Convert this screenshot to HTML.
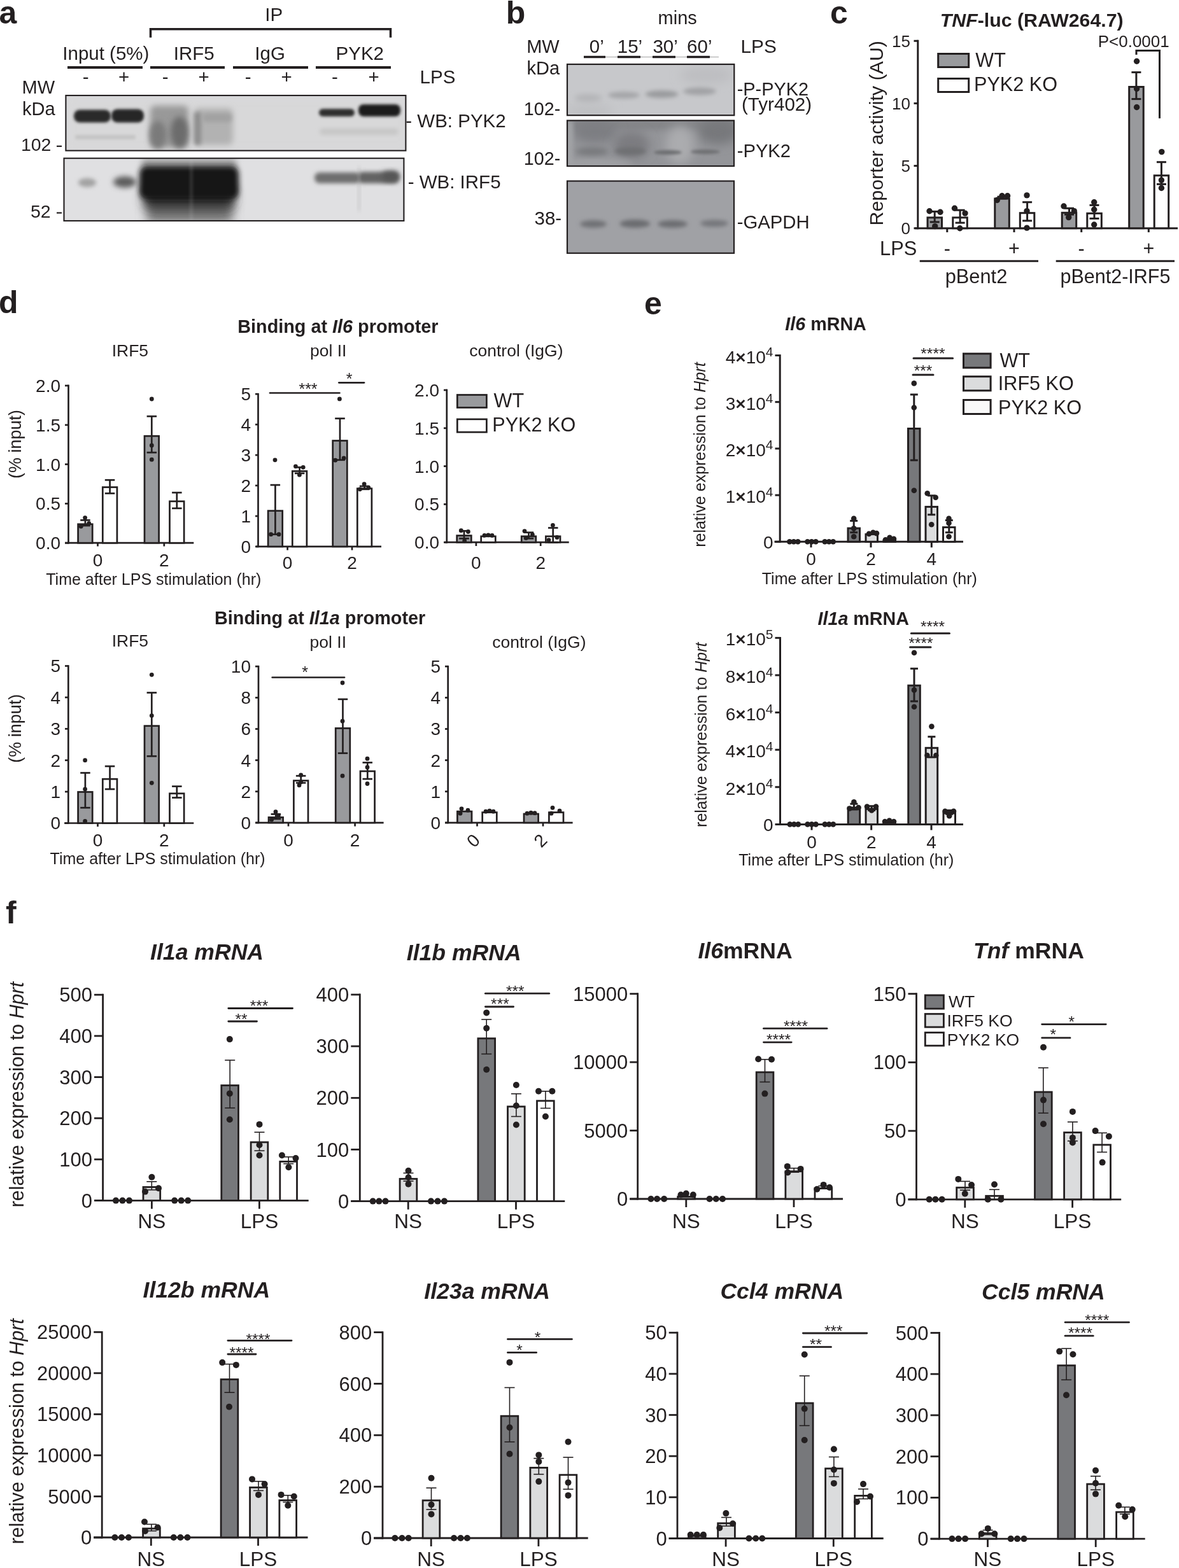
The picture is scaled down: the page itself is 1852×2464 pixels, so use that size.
<!DOCTYPE html>
<html><head><meta charset="utf-8"><title>Figure</title>
<style>
html,body{margin:0;padding:0;background:#fff;}
body{width:1852px;height:2464px;overflow:hidden;}
svg{display:block;}
text{font-family:'Liberation Sans', Arial, sans-serif;fill:#231f20;}
</style></head><body>
<svg width="1852" height="2464" viewBox="0 0 1852 2464">
<defs>
<filter id="b2" x="-50%" y="-50%" width="200%" height="200%"><feGaussianBlur stdDeviation="2"/></filter>
<filter id="b3" x="-50%" y="-50%" width="200%" height="200%"><feGaussianBlur stdDeviation="3"/></filter>
<filter id="b4" x="-50%" y="-50%" width="200%" height="200%"><feGaussianBlur stdDeviation="4"/></filter>
<filter id="b5" x="-50%" y="-50%" width="200%" height="200%"><feGaussianBlur stdDeviation="5"/></filter>
<filter id="b8" x="-50%" y="-50%" width="200%" height="200%"><feGaussianBlur stdDeviation="8"/></filter>
</defs>
<rect width="1852" height="2464" fill="#fff"/>
<text x="-1.5" y="37.0" font-size="50" font-weight="bold">a</text>
<text x="416.3" y="32.5" font-size="29.5">IP</text>
<path d="M236.5 59 V45.8 H613.5 V59" fill="none" stroke="#231f20" stroke-width="3.5"/>
<text x="98.3" y="94.0" font-size="29.5">Input (5%)</text>
<text x="272.7" y="94.0" font-size="29.5">IRF5</text>
<text x="400.3" y="94.0" font-size="29.5">IgG</text>
<text x="527.6" y="94.0" font-size="29.5">PYK2</text>
<line x1="106.0" y1="106.0" x2="224.0" y2="106.0" stroke="#231f20" stroke-width="4"/>
<line x1="236.0" y1="106.0" x2="353.0" y2="106.0" stroke="#231f20" stroke-width="4"/>
<line x1="366.0" y1="106.0" x2="484.0" y2="106.0" stroke="#231f20" stroke-width="4"/>
<line x1="496.0" y1="106.0" x2="614.0" y2="106.0" stroke="#231f20" stroke-width="4"/>
<text x="134.6" y="131.0" font-size="29.5" text-anchor="middle">-</text>
<text x="194.7" y="131.0" font-size="29.5" text-anchor="middle">+</text>
<text x="259.6" y="131.0" font-size="29.5" text-anchor="middle">-</text>
<text x="320.0" y="131.0" font-size="29.5" text-anchor="middle">+</text>
<text x="389.6" y="131.0" font-size="29.5" text-anchor="middle">-</text>
<text x="450.2" y="131.0" font-size="29.5" text-anchor="middle">+</text>
<text x="526.0" y="131.0" font-size="29.5" text-anchor="middle">-</text>
<text x="587.0" y="131.0" font-size="29.5" text-anchor="middle">+</text>
<text x="659.6" y="131.0" font-size="29.5">LPS</text>
<text x="34.6" y="147.0" font-size="29">MW</text>
<text x="35.0" y="180.5" font-size="29">kDa</text>
<clipPath id="ca1"><rect x="103.4" y="150" width="534" height="86.7"/></clipPath>
<clipPath id="ca2"><rect x="100.5" y="248.7" width="533.9" height="98.3"/></clipPath>
<g clip-path="url(#ca1)">
<rect x="103.4" y="150.0" width="534.0" height="86.7" fill="#dadadc" />
<rect x="103" y="150" width="540" height="90" fill="#d6d6d6" opacity="0.5" filter="url(#b8)"/>
<rect x="116" y="172.5" width="58" height="20" rx="9" fill="#2a2a2a" filter="url(#b2)"/>
<rect x="175" y="171.5" width="51" height="21" rx="9" fill="#262626" filter="url(#b2)"/>
<rect x="118" y="212" width="95" height="7" rx="3" fill="#c4c4c4" filter="url(#b2)"/>
<rect x="236" y="166" width="60" height="66" rx="8" fill="#999999" filter="url(#b5)"/>
<ellipse cx="248" cy="212" rx="13" ry="22" fill="#7a7a7a" filter="url(#b5)"/>
<ellipse cx="282" cy="208" rx="14" ry="25" fill="#6c6c6c" filter="url(#b5)"/>
<rect x="305" y="170" width="61" height="58" rx="8" fill="#b2b2b2" filter="url(#b5)"/>
<rect x="305" y="176" width="11" height="52" rx="4" fill="#8e8e8e" filter="url(#b3)"/>
<rect x="318" y="178" width="46" height="14" rx="6" fill="#a2a2a2" filter="url(#b3)"/>
<rect x="501" y="171" width="56" height="12" rx="6" fill="#2e2e2e" filter="url(#b2)"/>
<rect x="563" y="164" width="66" height="19" rx="8" fill="#1e1e1e" filter="url(#b2)"/>
<rect x="502" y="202" width="124" height="10" rx="5" fill="#c6c6c6" filter="url(#b3)"/>
</g>
<rect x="103.4" y="150.0" width="534.0" height="86.7" fill="none" stroke="#231f20" stroke-width="2.1" />
<g clip-path="url(#ca2)">
<rect x="100.5" y="248.7" width="533.9" height="98.3" fill="#e0e0e2" />
<ellipse cx="137" cy="287" rx="14" ry="7" fill="#a2a2a2" filter="url(#b3)"/>
<ellipse cx="196" cy="286" rx="18" ry="9" fill="#5c5c5c" filter="url(#b4)"/>
<rect x="222" y="249" width="150" height="20" rx="8" fill="#a0a0a0" filter="url(#b5)"/>
<rect x="230" y="316" width="136" height="34" rx="8" fill="#767676" filter="url(#b8)"/>
<rect x="225" y="290" width="144" height="38" rx="10" fill="#2a2a2a" filter="url(#b8)"/>
<rect x="219" y="261" width="156" height="52" rx="12" fill="#141414" filter="url(#b4)"/>
<rect x="298" y="250" width="5" height="98" fill="#d0d0d0" opacity="0.15" filter="url(#b2)"/>
<rect x="494" y="271" width="72" height="17" rx="8" fill="#6e6e6e" filter="url(#b3)"/>
<rect x="562" y="270" width="65" height="18" rx="8" fill="#646464" filter="url(#b3)"/>
<rect x="600" y="269" width="27" height="16" rx="8" fill="#555555" filter="url(#b4)"/>
<rect x="562" y="262" width="4" height="70" fill="#9a9a9a" opacity="0.3" filter="url(#b3)"/>
</g>
<rect x="100.5" y="248.7" width="533.9" height="98.3" fill="none" stroke="#231f20" stroke-width="2.1" />
<text x="32.9" y="236.7" font-size="28.5">102</text>
<line x1="89.0" y1="229.8" x2="97.0" y2="229.8" stroke="#231f20" stroke-width="2.2"/>
<text x="47.9" y="341.8" font-size="28.5">52</text>
<line x1="89.0" y1="334.5" x2="97.0" y2="334.5" stroke="#231f20" stroke-width="2.2"/>
<text x="637.3" y="199.6" font-size="29.5">- WB: PYK2</text>
<text x="640.7" y="296.0" font-size="29.5">- WB: IRF5</text>
<text x="794.8" y="37.0" font-size="50" font-weight="bold">b</text>
<text x="1033.6" y="37.6" font-size="29">mins</text>
<text x="827.2" y="82.7" font-size="29">MW</text>
<text x="827.6" y="117.0" font-size="29">kDa</text>
<text x="925.8" y="82.7" font-size="29.5">0’</text>
<text x="969.8" y="82.7" font-size="29.5">15’</text>
<text x="1025.4" y="82.7" font-size="29.5">30’</text>
<text x="1079.1" y="82.7" font-size="29.5">60’</text>
<line x1="917.0" y1="89.6" x2="1129.0" y2="89.6" stroke="#888" stroke-width="0.8"/>
<line x1="917.0" y1="89.6" x2="951.0" y2="89.6" stroke="#231f20" stroke-width="3.5"/>
<line x1="970.0" y1="89.6" x2="1006.0" y2="89.6" stroke="#231f20" stroke-width="3.5"/>
<line x1="1025.0" y1="89.6" x2="1061.0" y2="89.6" stroke="#231f20" stroke-width="3.5"/>
<line x1="1079.0" y1="89.6" x2="1115.0" y2="89.6" stroke="#231f20" stroke-width="3.5"/>
<text x="1163.5" y="82.7" font-size="29.8">LPS</text>
<clipPath id="cb1"><rect x="891" y="101" width="262.3" height="80.2"/></clipPath>
<clipPath id="cb2"><rect x="891" y="189.4" width="262" height="71.6"/></clipPath>
<clipPath id="cb3"><rect x="891" y="284.5" width="262" height="113.3"/></clipPath>
<g clip-path="url(#cb1)">
<rect x="891.0" y="101.0" width="262.3" height="80.2" fill="#c7c8cb" />
<ellipse cx="1110" cy="118" rx="42" ry="14" fill="#bdbec1" filter="url(#b8)"/>
<ellipse cx="925" cy="174" rx="38" ry="8" fill="#bcbdc0" filter="url(#b8)"/>
<ellipse cx="924" cy="154" rx="22" ry="6" fill="#b2b3b6" filter="url(#b4)"/>
<ellipse cx="980" cy="149.5" rx="25" ry="5.5" fill="#a5a6a9" filter="url(#b3)"/>
<ellipse cx="1039.5" cy="148" rx="26" ry="6" fill="#9a9b9e" filter="url(#b3)"/>
<ellipse cx="1099" cy="143.5" rx="26" ry="6" fill="#a1a2a5" filter="url(#b3)"/>
</g>
<rect x="891.0" y="101.0" width="262.3" height="80.2" fill="none" stroke="#231f20" stroke-width="2.2" />
<g clip-path="url(#cb2)">
<rect x="891.0" y="189.4" width="262.0" height="71.6" fill="#949599" />
<rect x="891" y="188" width="262" height="16" fill="#838488" filter="url(#b5)"/>
<ellipse cx="935" cy="207" rx="36" ry="18" fill="#7d7e82" filter="url(#b8)"/>
<ellipse cx="992" cy="228" rx="28" ry="22" fill="#7b7c80" filter="url(#b8)"/>
<ellipse cx="1128" cy="207" rx="32" ry="20" fill="#77787c" filter="url(#b8)"/>
<ellipse cx="1068" cy="228" rx="22" ry="30" fill="#abacaf" filter="url(#b8)"/>
<rect x="891" y="190" width="9" height="71" fill="#a3a4a7" filter="url(#b3)"/>
<ellipse cx="935" cy="257" rx="60" ry="6" fill="#a2a3a6" filter="url(#b5)"/>
<ellipse cx="930" cy="238" rx="26" ry="6" fill="#76777a" filter="url(#b4)"/>
<ellipse cx="990" cy="237.5" rx="25" ry="6" fill="#6e6f72" filter="url(#b3)"/>
<ellipse cx="1049" cy="239.5" rx="22" ry="3.5" fill="#6c6d70" filter="url(#b2)"/>
<ellipse cx="1108" cy="238.5" rx="23" ry="3.5" fill="#6e6f72" filter="url(#b2)"/>
</g>
<rect x="891.0" y="189.4" width="262.0" height="71.6" fill="none" stroke="#231f20" stroke-width="2.2" />
<g clip-path="url(#cb3)">
<rect x="891.0" y="284.5" width="262.0" height="113.3" fill="#a0a1a5" />
<ellipse cx="932" cy="352" rx="21" ry="6" fill="#707175" filter="url(#b3)"/>
<ellipse cx="997.4" cy="351.5" rx="24" ry="6.5" fill="#6b6c70" filter="url(#b3)"/>
<ellipse cx="1056.5" cy="352" rx="23.5" ry="6" fill="#6c6d71" filter="url(#b3)"/>
<ellipse cx="1122" cy="351" rx="22" ry="5.5" fill="#75767a" filter="url(#b3)"/>
</g>
<rect x="891.0" y="284.5" width="262.0" height="113.3" fill="none" stroke="#231f20" stroke-width="2.2" />
<text x="822.8" y="181.0" font-size="28.7">102-</text>
<text x="822.8" y="259.3" font-size="28.7">102-</text>
<text x="839.5" y="353.0" font-size="29.5">38-</text>
<text x="1157.7" y="150.4" font-size="28.9">-P-PYK2</text>
<text x="1165.0" y="173.6" font-size="29.6">(Tyr402)</text>
<text x="1157.7" y="247.3" font-size="29.2">-PYK2</text>
<text x="1157.7" y="359.0" font-size="29.3">-GAPDH</text>
<text x="1304.0" y="36.5" font-size="50" font-weight="bold">c</text>
<text x="1476.8" y="41.5" font-size="30.3" font-weight="bold"><tspan font-style="italic">TNF</tspan>-luc (RAW264.7)</text>
<line x1="1441.8" y1="62.8" x2="1441.8" y2="360.2" stroke="#231f20" stroke-width="3"/>
<line x1="1435.5" y1="358.7" x2="1441.8" y2="358.7" stroke="#231f20" stroke-width="3"/>
<text x="1430.0" y="368.0" font-size="26" text-anchor="end">0</text>
<line x1="1435.5" y1="260.6" x2="1441.8" y2="260.6" stroke="#231f20" stroke-width="3"/>
<text x="1430.0" y="269.9" font-size="26" text-anchor="end">5</text>
<line x1="1435.5" y1="162.4" x2="1441.8" y2="162.4" stroke="#231f20" stroke-width="3"/>
<text x="1430.0" y="171.7" font-size="26" text-anchor="end">10</text>
<line x1="1435.5" y1="64.3" x2="1441.8" y2="64.3" stroke="#231f20" stroke-width="3"/>
<text x="1430.0" y="73.6" font-size="26" text-anchor="end">15</text>
<line x1="1437.0" y1="358.7" x2="1850.0" y2="358.7" stroke="#231f20" stroke-width="3"/>
<line x1="1487.8" y1="358.7" x2="1487.8" y2="365.0" stroke="#231f20" stroke-width="3"/>
<line x1="1593.0" y1="358.7" x2="1593.0" y2="365.0" stroke="#231f20" stroke-width="3"/>
<line x1="1698.7" y1="358.7" x2="1698.7" y2="365.0" stroke="#231f20" stroke-width="3"/>
<line x1="1804.3" y1="358.7" x2="1804.3" y2="365.0" stroke="#231f20" stroke-width="3"/>
<text x="1387.2" y="354.5" font-size="30.4" transform="rotate(-90 1387.2 354.5)">Reporter activity (AU)</text>
<text x="1382.1" y="401.0" font-size="30.8">LPS</text>
<text x="1487.8" y="401.0" font-size="30.5" text-anchor="middle">-</text>
<text x="1593.0" y="401.0" font-size="30.5" text-anchor="middle">+</text>
<text x="1698.7" y="401.0" font-size="30.5" text-anchor="middle">-</text>
<text x="1804.3" y="401.0" font-size="30.5" text-anchor="middle">+</text>
<line x1="1444.7" y1="410.3" x2="1631.0" y2="410.3" stroke="#231f20" stroke-width="3"/>
<line x1="1658.7" y1="410.3" x2="1845.0" y2="410.3" stroke="#231f20" stroke-width="3"/>
<text x="1533.5" y="445.4" font-size="30.8" text-anchor="middle">pBent2</text>
<text x="1752.0" y="445.4" font-size="30.5" text-anchor="middle">pBent2-IRF5</text>
<rect x="1473.7" y="84.5" width="48.0" height="21.0" fill="#999a9d" stroke="#231f20" stroke-width="3" />
<rect x="1473.7" y="123.5" width="48.0" height="21.0" fill="#fff" stroke="#231f20" stroke-width="3" />
<text x="1532.3" y="104.6" font-size="30.6">WT</text>
<text x="1530.0" y="142.8" font-size="30.6">PYK2 KO</text>
<rect x="1457.0" y="341.9" width="22.5" height="16.8" fill="#999a9d" stroke="#231f20" stroke-width="3" />
<rect x="1496.8" y="341.9" width="22.5" height="16.8" fill="#fff" stroke="#231f20" stroke-width="3" />
<rect x="1562.8" y="312.1" width="22.5" height="46.6" fill="#999a9d" stroke="#231f20" stroke-width="3" />
<rect x="1602.3" y="334.7" width="22.5" height="24.0" fill="#fff" stroke="#231f20" stroke-width="3" />
<rect x="1668.2" y="334.3" width="22.5" height="24.4" fill="#999a9d" stroke="#231f20" stroke-width="3" />
<rect x="1707.8" y="335.3" width="22.5" height="23.4" fill="#fff" stroke="#231f20" stroke-width="3" />
<rect x="1773.7" y="136.5" width="22.5" height="222.2" fill="#999a9d" stroke="#231f20" stroke-width="3" />
<rect x="1813.2" y="275.8" width="22.5" height="82.9" fill="#fff" stroke="#231f20" stroke-width="3" />
<line x1="1468.2" y1="348.9" x2="1468.2" y2="332.4" stroke="#231f20" stroke-width="3"/>
<line x1="1460.7" y1="332.4" x2="1475.7" y2="332.4" stroke="#231f20" stroke-width="3"/>
<line x1="1460.7" y1="348.9" x2="1475.7" y2="348.9" stroke="#231f20" stroke-width="3"/>
<line x1="1508.1" y1="350.1" x2="1508.1" y2="330.2" stroke="#231f20" stroke-width="3"/>
<line x1="1500.6" y1="330.2" x2="1515.6" y2="330.2" stroke="#231f20" stroke-width="3"/>
<line x1="1500.6" y1="350.1" x2="1515.6" y2="350.1" stroke="#231f20" stroke-width="3"/>
<line x1="1574.0" y1="312.0" x2="1574.0" y2="309.2" stroke="#231f20" stroke-width="3"/>
<line x1="1566.5" y1="309.2" x2="1581.5" y2="309.2" stroke="#231f20" stroke-width="3"/>
<line x1="1566.5" y1="312.0" x2="1581.5" y2="312.0" stroke="#231f20" stroke-width="3"/>
<line x1="1613.6" y1="346.9" x2="1613.6" y2="317.7" stroke="#231f20" stroke-width="3"/>
<line x1="1606.1" y1="317.7" x2="1621.1" y2="317.7" stroke="#231f20" stroke-width="3"/>
<line x1="1606.1" y1="346.9" x2="1621.1" y2="346.9" stroke="#231f20" stroke-width="3"/>
<line x1="1679.5" y1="337.1" x2="1679.5" y2="327.3" stroke="#231f20" stroke-width="3"/>
<line x1="1672.0" y1="327.3" x2="1687.0" y2="327.3" stroke="#231f20" stroke-width="3"/>
<line x1="1672.0" y1="337.1" x2="1687.0" y2="337.1" stroke="#231f20" stroke-width="3"/>
<line x1="1719.0" y1="343.4" x2="1719.0" y2="322.4" stroke="#231f20" stroke-width="3"/>
<line x1="1711.5" y1="322.4" x2="1726.5" y2="322.4" stroke="#231f20" stroke-width="3"/>
<line x1="1711.5" y1="343.4" x2="1726.5" y2="343.4" stroke="#231f20" stroke-width="3"/>
<line x1="1784.9" y1="155.6" x2="1784.9" y2="113.6" stroke="#231f20" stroke-width="3"/>
<line x1="1777.4" y1="113.6" x2="1792.4" y2="113.6" stroke="#231f20" stroke-width="3"/>
<line x1="1777.4" y1="155.6" x2="1792.4" y2="155.6" stroke="#231f20" stroke-width="3"/>
<line x1="1824.4" y1="289.4" x2="1824.4" y2="254.7" stroke="#231f20" stroke-width="3"/>
<line x1="1816.9" y1="254.7" x2="1831.9" y2="254.7" stroke="#231f20" stroke-width="3"/>
<line x1="1816.9" y1="289.4" x2="1831.9" y2="289.4" stroke="#231f20" stroke-width="3"/>
<circle cx="1460.0" cy="331.8" r="4.7" fill="#231f20"/>
<circle cx="1477.0" cy="333.2" r="4.7" fill="#231f20"/>
<circle cx="1468.7" cy="355.6" r="4.7" fill="#231f20"/>
<circle cx="1499.5" cy="327.3" r="4.7" fill="#231f20"/>
<circle cx="1516.0" cy="335.1" r="4.7" fill="#231f20"/>
<circle cx="1507.8" cy="358.7" r="4.7" fill="#231f20"/>
<circle cx="1566.3" cy="314.5" r="4.7" fill="#231f20"/>
<circle cx="1574.0" cy="307.7" r="4.7" fill="#231f20"/>
<circle cx="1582.6" cy="307.7" r="4.7" fill="#231f20"/>
<circle cx="1613.0" cy="306.9" r="4.7" fill="#231f20"/>
<circle cx="1613.0" cy="331.6" r="4.7" fill="#231f20"/>
<circle cx="1613.0" cy="358.1" r="4.7" fill="#231f20"/>
<circle cx="1671.0" cy="324.0" r="4.7" fill="#231f20"/>
<circle cx="1687.3" cy="331.6" r="4.7" fill="#231f20"/>
<circle cx="1678.7" cy="341.6" r="4.7" fill="#231f20"/>
<circle cx="1718.7" cy="317.7" r="4.7" fill="#231f20"/>
<circle cx="1718.7" cy="329.3" r="4.7" fill="#231f20"/>
<circle cx="1718.7" cy="353.0" r="4.7" fill="#231f20"/>
<circle cx="1785.6" cy="96.3" r="4.7" fill="#231f20"/>
<circle cx="1785.6" cy="139.5" r="4.7" fill="#231f20"/>
<circle cx="1785.6" cy="168.5" r="4.7" fill="#231f20"/>
<circle cx="1824.8" cy="238.6" r="4.7" fill="#231f20"/>
<circle cx="1824.4" cy="283.1" r="4.7" fill="#231f20"/>
<circle cx="1824.4" cy="295.5" r="4.7" fill="#231f20"/>
<path d="M1785 86 V79.5 H1821.5 V186" fill="none" stroke="#231f20" stroke-width="3"/>
<text x="1724.7" y="73.7" font-size="26">P&lt;0.0001</text>
<text x="-2.0" y="492.0" font-size="50" font-weight="bold">d</text>
<text x="373.3" y="522.9" font-size="28.8" font-weight="bold">Binding at <tspan font-style="italic">Il6</tspan> promoter</text>
<text x="337.0" y="981" font-size="28.8" font-weight="bold">Binding at <tspan font-style="italic">Il1a</tspan> promoter</text>
<text x="204.4" y="560.3" font-size="26.5" text-anchor="middle">IRF5</text>
<text x="515.7" y="560.2" font-size="26.5" text-anchor="middle">pol II</text>
<text x="810.9" y="560.2" font-size="26.5" text-anchor="middle">control (IgG)</text>
<text x="204.4" y="1016.0" font-size="26.5" text-anchor="middle">IRF5</text>
<text x="515.3" y="1017.6" font-size="26.5" text-anchor="middle">pol II</text>
<text x="846.9" y="1017.6" font-size="26.5" text-anchor="middle">control (IgG)</text>
<text x="33.0" y="698.0" font-size="27" text-anchor="middle" transform="rotate(-90 33.0 698.0)">(% input)</text>
<text x="33.0" y="1144.7" font-size="27" text-anchor="middle" transform="rotate(-90 33.0 1144.7)">(% input)</text>
<text x="241.3" y="918.6" font-size="25" text-anchor="middle">Time after LPS stimulation (hr)</text>
<text x="247.6" y="1357.7" font-size="25" text-anchor="middle">Time after LPS stimulation (hr)</text>
<line x1="107.5" y1="604.6" x2="107.5" y2="854.6" stroke="#231f20" stroke-width="2.7"/>
<line x1="102.0" y1="853.2" x2="107.5" y2="853.2" stroke="#231f20" stroke-width="2.7"/>
<text x="95.0" y="863.1" font-size="28" text-anchor="end">0.0</text>
<line x1="102.0" y1="791.4" x2="107.5" y2="791.4" stroke="#231f20" stroke-width="2.7"/>
<text x="95.0" y="801.3" font-size="28" text-anchor="end">0.5</text>
<line x1="102.0" y1="729.6" x2="107.5" y2="729.6" stroke="#231f20" stroke-width="2.7"/>
<text x="95.0" y="739.5" font-size="28" text-anchor="end">1.0</text>
<line x1="102.0" y1="667.8" x2="107.5" y2="667.8" stroke="#231f20" stroke-width="2.7"/>
<text x="95.0" y="677.7" font-size="28" text-anchor="end">1.5</text>
<line x1="102.0" y1="606.0" x2="107.5" y2="606.0" stroke="#231f20" stroke-width="2.7"/>
<text x="95.0" y="615.9" font-size="28" text-anchor="end">2.0</text>
<line x1="102.0" y1="853.2" x2="304.3" y2="853.2" stroke="#231f20" stroke-width="2.7"/>
<line x1="153.5" y1="853.2" x2="153.5" y2="858.5" stroke="#231f20" stroke-width="2.7"/>
<line x1="257.8" y1="853.2" x2="257.8" y2="858.5" stroke="#231f20" stroke-width="2.7"/>
<text x="153.5" y="889.5" font-size="28" text-anchor="middle">0</text>
<text x="257.8" y="889.5" font-size="28" text-anchor="middle">2</text>
<rect x="122.6" y="823.7" width="22.6" height="29.5" fill="#999a9d" stroke="#231f20" stroke-width="2.7" />
<rect x="161.3" y="765.6" width="22.6" height="87.6" fill="#fff" stroke="#231f20" stroke-width="2.7" />
<rect x="227.0" y="685.2" width="22.6" height="168.0" fill="#999a9d" stroke="#231f20" stroke-width="2.7" />
<rect x="266.5" y="787.8" width="22.6" height="65.4" fill="#fff" stroke="#231f20" stroke-width="2.7" />
<line x1="133.9" y1="826.0" x2="133.9" y2="817.4" stroke="#231f20" stroke-width="2.7"/>
<line x1="126.2" y1="817.4" x2="141.7" y2="817.4" stroke="#231f20" stroke-width="2.7"/>
<line x1="126.2" y1="826.0" x2="141.7" y2="826.0" stroke="#231f20" stroke-width="2.7"/>
<line x1="172.6" y1="775.3" x2="172.6" y2="754.3" stroke="#231f20" stroke-width="2.7"/>
<line x1="164.8" y1="754.3" x2="180.3" y2="754.3" stroke="#231f20" stroke-width="2.7"/>
<line x1="164.8" y1="775.3" x2="180.3" y2="775.3" stroke="#231f20" stroke-width="2.7"/>
<line x1="238.3" y1="711.1" x2="238.3" y2="654.2" stroke="#231f20" stroke-width="2.7"/>
<line x1="230.6" y1="654.2" x2="246.1" y2="654.2" stroke="#231f20" stroke-width="2.7"/>
<line x1="230.6" y1="711.1" x2="246.1" y2="711.1" stroke="#231f20" stroke-width="2.7"/>
<line x1="277.8" y1="798.8" x2="277.8" y2="774.1" stroke="#231f20" stroke-width="2.7"/>
<line x1="270.1" y1="774.1" x2="285.6" y2="774.1" stroke="#231f20" stroke-width="2.7"/>
<line x1="270.1" y1="798.8" x2="285.6" y2="798.8" stroke="#231f20" stroke-width="2.7"/>
<circle cx="133.6" cy="813.6" r="3.4" fill="#231f20"/>
<circle cx="127.2" cy="827.2" r="3.4" fill="#231f20"/>
<circle cx="139.7" cy="822.3" r="3.4" fill="#231f20"/>
<circle cx="238.3" cy="627.0" r="3.4" fill="#231f20"/>
<circle cx="238.3" cy="699.9" r="3.4" fill="#231f20"/>
<circle cx="238.3" cy="722.2" r="3.4" fill="#231f20"/>
<line x1="405.5" y1="617.9" x2="405.5" y2="860.2" stroke="#231f20" stroke-width="2.7"/>
<line x1="401.0" y1="858.9" x2="405.5" y2="858.9" stroke="#231f20" stroke-width="2.7"/>
<text x="394.0" y="868.8" font-size="28" text-anchor="end">0</text>
<line x1="401.0" y1="811.0" x2="405.5" y2="811.0" stroke="#231f20" stroke-width="2.7"/>
<text x="394.0" y="820.9" font-size="28" text-anchor="end">1</text>
<line x1="401.0" y1="763.0" x2="405.5" y2="763.0" stroke="#231f20" stroke-width="2.7"/>
<text x="394.0" y="773.0" font-size="28" text-anchor="end">2</text>
<line x1="401.0" y1="715.1" x2="405.5" y2="715.1" stroke="#231f20" stroke-width="2.7"/>
<text x="394.0" y="725.0" font-size="28" text-anchor="end">3</text>
<line x1="401.0" y1="667.1" x2="405.5" y2="667.1" stroke="#231f20" stroke-width="2.7"/>
<text x="394.0" y="677.1" font-size="28" text-anchor="end">4</text>
<line x1="401.0" y1="619.2" x2="405.5" y2="619.2" stroke="#231f20" stroke-width="2.7"/>
<text x="394.0" y="629.1" font-size="28" text-anchor="end">5</text>
<line x1="402.0" y1="858.9" x2="599.0" y2="858.9" stroke="#231f20" stroke-width="2.7"/>
<line x1="451.6" y1="858.9" x2="451.6" y2="864.5" stroke="#231f20" stroke-width="2.7"/>
<line x1="553.0" y1="858.9" x2="553.0" y2="864.5" stroke="#231f20" stroke-width="2.7"/>
<text x="451.6" y="893.6" font-size="28" text-anchor="middle">0</text>
<text x="553.0" y="893.6" font-size="28" text-anchor="middle">2</text>
<rect x="421.1" y="802.7" width="22.6" height="56.2" fill="#999a9d" stroke="#231f20" stroke-width="2.7" />
<rect x="459.3" y="740.4" width="22.6" height="118.5" fill="#fff" stroke="#231f20" stroke-width="2.7" />
<rect x="522.7" y="692.5" width="22.6" height="166.4" fill="#999a9d" stroke="#231f20" stroke-width="2.7" />
<rect x="561.3" y="767.7" width="22.6" height="91.2" fill="#fff" stroke="#231f20" stroke-width="2.7" />
<line x1="432.4" y1="839.7" x2="432.4" y2="762.1" stroke="#231f20" stroke-width="2.7"/>
<line x1="424.6" y1="762.1" x2="440.1" y2="762.1" stroke="#231f20" stroke-width="2.7"/>
<line x1="424.6" y1="839.7" x2="440.1" y2="839.7" stroke="#231f20" stroke-width="2.7"/>
<line x1="470.6" y1="743.8" x2="470.6" y2="734.3" stroke="#231f20" stroke-width="2.7"/>
<line x1="462.9" y1="734.3" x2="478.4" y2="734.3" stroke="#231f20" stroke-width="2.7"/>
<line x1="462.9" y1="743.8" x2="478.4" y2="743.8" stroke="#231f20" stroke-width="2.7"/>
<line x1="534.0" y1="722.8" x2="534.0" y2="657.6" stroke="#231f20" stroke-width="2.7"/>
<line x1="526.2" y1="657.6" x2="541.8" y2="657.6" stroke="#231f20" stroke-width="2.7"/>
<line x1="526.2" y1="722.8" x2="541.8" y2="722.8" stroke="#231f20" stroke-width="2.7"/>
<line x1="572.6" y1="768.8" x2="572.6" y2="764.0" stroke="#231f20" stroke-width="2.7"/>
<line x1="564.9" y1="764.0" x2="580.4" y2="764.0" stroke="#231f20" stroke-width="2.7"/>
<line x1="564.9" y1="768.8" x2="580.4" y2="768.8" stroke="#231f20" stroke-width="2.7"/>
<circle cx="432.0" cy="722.8" r="3.4" fill="#231f20"/>
<circle cx="425.6" cy="839.7" r="3.4" fill="#231f20"/>
<circle cx="438.0" cy="839.7" r="3.4" fill="#231f20"/>
<circle cx="464.4" cy="732.8" r="3.4" fill="#231f20"/>
<circle cx="476.2" cy="734.3" r="3.4" fill="#231f20"/>
<circle cx="470.4" cy="746.2" r="3.4" fill="#231f20"/>
<circle cx="533.4" cy="626.9" r="3.4" fill="#231f20"/>
<circle cx="526.7" cy="723.2" r="3.4" fill="#231f20"/>
<circle cx="540.1" cy="719.9" r="3.4" fill="#231f20"/>
<circle cx="565.4" cy="768.8" r="3.4" fill="#231f20"/>
<circle cx="572.1" cy="760.6" r="3.4" fill="#231f20"/>
<circle cx="578.9" cy="766.4" r="3.4" fill="#231f20"/>
<line x1="424.0" y1="617.5" x2="533.4" y2="617.5" stroke="#231f20" stroke-width="2.7" stroke-linecap="round"/>
<text x="484.0" y="619.8" font-size="25" text-anchor="middle">***</text>
<line x1="532.4" y1="601.3" x2="572.0" y2="601.3" stroke="#231f20" stroke-width="2.7" stroke-linecap="round"/>
<text x="548.6" y="603.8" font-size="25" text-anchor="middle">*</text>
<line x1="701.8" y1="611.6" x2="701.8" y2="853.6" stroke="#231f20" stroke-width="2.7"/>
<line x1="697.0" y1="852.2" x2="701.8" y2="852.2" stroke="#231f20" stroke-width="2.7"/>
<text x="690.0" y="862.1" font-size="28" text-anchor="end">0.0</text>
<line x1="697.0" y1="792.4" x2="701.8" y2="792.4" stroke="#231f20" stroke-width="2.7"/>
<text x="690.0" y="802.3" font-size="28" text-anchor="end">0.5</text>
<line x1="697.0" y1="732.6" x2="701.8" y2="732.6" stroke="#231f20" stroke-width="2.7"/>
<text x="690.0" y="742.5" font-size="28" text-anchor="end">1.0</text>
<line x1="697.0" y1="672.8" x2="701.8" y2="672.8" stroke="#231f20" stroke-width="2.7"/>
<text x="690.0" y="682.7" font-size="28" text-anchor="end">1.5</text>
<line x1="697.0" y1="613.0" x2="701.8" y2="613.0" stroke="#231f20" stroke-width="2.7"/>
<text x="690.0" y="622.9" font-size="28" text-anchor="end">2.0</text>
<line x1="698.4" y1="852.2" x2="893.7" y2="852.2" stroke="#231f20" stroke-width="2.7"/>
<line x1="747.9" y1="852.2" x2="747.9" y2="858.0" stroke="#231f20" stroke-width="2.7"/>
<line x1="849.2" y1="852.2" x2="849.2" y2="858.0" stroke="#231f20" stroke-width="2.7"/>
<text x="747.9" y="893.6" font-size="28" text-anchor="middle">0</text>
<text x="849.2" y="893.6" font-size="28" text-anchor="middle">2</text>
<rect x="717.7" y="841.6" width="22.6" height="10.6" fill="#999a9d" stroke="#231f20" stroke-width="2.7" />
<rect x="755.7" y="842.8" width="22.6" height="9.4" fill="#fff" stroke="#231f20" stroke-width="2.7" />
<rect x="819.2" y="842.8" width="22.6" height="9.4" fill="#999a9d" stroke="#231f20" stroke-width="2.7" />
<rect x="857.4" y="842.8" width="22.6" height="9.4" fill="#fff" stroke="#231f20" stroke-width="2.7" />
<line x1="729.0" y1="846.2" x2="729.0" y2="834.3" stroke="#231f20" stroke-width="2.7"/>
<line x1="721.2" y1="834.3" x2="736.8" y2="834.3" stroke="#231f20" stroke-width="2.7"/>
<line x1="721.2" y1="846.2" x2="736.8" y2="846.2" stroke="#231f20" stroke-width="2.7"/>
<line x1="830.5" y1="846.2" x2="830.5" y2="836.7" stroke="#231f20" stroke-width="2.7"/>
<line x1="822.8" y1="836.7" x2="838.2" y2="836.7" stroke="#231f20" stroke-width="2.7"/>
<line x1="822.8" y1="846.2" x2="838.2" y2="846.2" stroke="#231f20" stroke-width="2.7"/>
<line x1="868.7" y1="852.2" x2="868.7" y2="829.5" stroke="#231f20" stroke-width="2.7"/>
<line x1="861.0" y1="829.5" x2="876.5" y2="829.5" stroke="#231f20" stroke-width="2.7"/>
<line x1="861.0" y1="852.2" x2="876.5" y2="852.2" stroke="#231f20" stroke-width="2.7"/>
<circle cx="724.3" cy="833.7" r="3.4" fill="#231f20"/>
<circle cx="735.4" cy="835.5" r="3.4" fill="#231f20"/>
<circle cx="729.7" cy="849.8" r="3.4" fill="#231f20"/>
<circle cx="761.0" cy="841.4" r="3.4" fill="#231f20"/>
<circle cx="767.0" cy="840.8" r="3.4" fill="#231f20"/>
<circle cx="773.0" cy="841.4" r="3.4" fill="#231f20"/>
<circle cx="824.0" cy="834.6" r="3.4" fill="#231f20"/>
<circle cx="836.4" cy="840.2" r="3.4" fill="#231f20"/>
<circle cx="826.3" cy="845.4" r="3.4" fill="#231f20"/>
<circle cx="868.4" cy="825.3" r="3.4" fill="#231f20"/>
<circle cx="862.0" cy="848.6" r="3.4" fill="#231f20"/>
<circle cx="875.0" cy="844.4" r="3.4" fill="#231f20"/>
<rect x="718.3" y="620.5" width="46.1" height="20.0" fill="#999a9d" stroke="#231f20" stroke-width="2.7" />
<rect x="718.3" y="658.8" width="46.1" height="20.3" fill="#fff" stroke="#231f20" stroke-width="2.7" />
<text x="775.6" y="640.0" font-size="30.6">WT</text>
<text x="773.3" y="678.0" font-size="30.6">PYK2 KO</text>
<line x1="107.3" y1="1045.2" x2="107.3" y2="1294.8" stroke="#231f20" stroke-width="2.7"/>
<line x1="102.0" y1="1293.5" x2="107.3" y2="1293.5" stroke="#231f20" stroke-width="2.7"/>
<text x="95.0" y="1303.4" font-size="28" text-anchor="end">0</text>
<line x1="102.0" y1="1244.1" x2="107.3" y2="1244.1" stroke="#231f20" stroke-width="2.7"/>
<text x="95.0" y="1254.0" font-size="28" text-anchor="end">1</text>
<line x1="102.0" y1="1194.7" x2="107.3" y2="1194.7" stroke="#231f20" stroke-width="2.7"/>
<text x="95.0" y="1204.6" font-size="28" text-anchor="end">2</text>
<line x1="102.0" y1="1145.3" x2="107.3" y2="1145.3" stroke="#231f20" stroke-width="2.7"/>
<text x="95.0" y="1155.2" font-size="28" text-anchor="end">3</text>
<line x1="102.0" y1="1095.9" x2="107.3" y2="1095.9" stroke="#231f20" stroke-width="2.7"/>
<text x="95.0" y="1105.8" font-size="28" text-anchor="end">4</text>
<line x1="102.0" y1="1046.5" x2="107.3" y2="1046.5" stroke="#231f20" stroke-width="2.7"/>
<text x="95.0" y="1056.4" font-size="28" text-anchor="end">5</text>
<line x1="101.0" y1="1293.5" x2="304.3" y2="1293.5" stroke="#231f20" stroke-width="2.7"/>
<line x1="153.5" y1="1293.5" x2="153.5" y2="1299.0" stroke="#231f20" stroke-width="2.7"/>
<line x1="257.8" y1="1293.5" x2="257.8" y2="1299.0" stroke="#231f20" stroke-width="2.7"/>
<text x="153.5" y="1329.5" font-size="28" text-anchor="middle">0</text>
<text x="257.8" y="1329.5" font-size="28" text-anchor="middle">2</text>
<rect x="122.6" y="1244.5" width="22.6" height="49.0" fill="#999a9d" stroke="#231f20" stroke-width="2.7" />
<rect x="161.3" y="1224.2" width="22.6" height="69.3" fill="#fff" stroke="#231f20" stroke-width="2.7" />
<rect x="227.0" y="1140.7" width="22.6" height="152.8" fill="#999a9d" stroke="#231f20" stroke-width="2.7" />
<rect x="266.5" y="1246.9" width="22.6" height="46.6" fill="#fff" stroke="#231f20" stroke-width="2.7" />
<line x1="133.9" y1="1269.3" x2="133.9" y2="1214.5" stroke="#231f20" stroke-width="2.7"/>
<line x1="126.2" y1="1214.5" x2="141.7" y2="1214.5" stroke="#231f20" stroke-width="2.7"/>
<line x1="126.2" y1="1269.3" x2="141.7" y2="1269.3" stroke="#231f20" stroke-width="2.7"/>
<line x1="172.6" y1="1240.1" x2="172.6" y2="1204.1" stroke="#231f20" stroke-width="2.7"/>
<line x1="164.8" y1="1204.1" x2="180.3" y2="1204.1" stroke="#231f20" stroke-width="2.7"/>
<line x1="164.8" y1="1240.1" x2="180.3" y2="1240.1" stroke="#231f20" stroke-width="2.7"/>
<line x1="238.3" y1="1188.3" x2="238.3" y2="1088.5" stroke="#231f20" stroke-width="2.7"/>
<line x1="230.6" y1="1088.5" x2="246.1" y2="1088.5" stroke="#231f20" stroke-width="2.7"/>
<line x1="230.6" y1="1188.3" x2="246.1" y2="1188.3" stroke="#231f20" stroke-width="2.7"/>
<line x1="277.8" y1="1253.5" x2="277.8" y2="1235.7" stroke="#231f20" stroke-width="2.7"/>
<line x1="270.1" y1="1235.7" x2="285.6" y2="1235.7" stroke="#231f20" stroke-width="2.7"/>
<line x1="270.1" y1="1253.5" x2="285.6" y2="1253.5" stroke="#231f20" stroke-width="2.7"/>
<circle cx="133.6" cy="1194.7" r="3.4" fill="#231f20"/>
<circle cx="133.6" cy="1240.1" r="3.4" fill="#231f20"/>
<circle cx="133.6" cy="1290.5" r="3.4" fill="#231f20"/>
<circle cx="238.3" cy="1060.3" r="3.4" fill="#231f20"/>
<circle cx="238.3" cy="1124.6" r="3.4" fill="#231f20"/>
<circle cx="238.3" cy="1230.3" r="3.4" fill="#231f20"/>
<line x1="406.0" y1="1045.9" x2="406.0" y2="1294.2" stroke="#231f20" stroke-width="2.7"/>
<line x1="401.0" y1="1292.9" x2="406.0" y2="1292.9" stroke="#231f20" stroke-width="2.7"/>
<text x="394.0" y="1302.8" font-size="28" text-anchor="end">0</text>
<line x1="401.0" y1="1243.8" x2="406.0" y2="1243.8" stroke="#231f20" stroke-width="2.7"/>
<text x="394.0" y="1253.7" font-size="28" text-anchor="end">2</text>
<line x1="401.0" y1="1194.6" x2="406.0" y2="1194.6" stroke="#231f20" stroke-width="2.7"/>
<text x="394.0" y="1204.6" font-size="28" text-anchor="end">4</text>
<line x1="401.0" y1="1145.5" x2="406.0" y2="1145.5" stroke="#231f20" stroke-width="2.7"/>
<text x="394.0" y="1155.4" font-size="28" text-anchor="end">6</text>
<line x1="401.0" y1="1096.3" x2="406.0" y2="1096.3" stroke="#231f20" stroke-width="2.7"/>
<text x="394.0" y="1106.3" font-size="28" text-anchor="end">8</text>
<line x1="401.0" y1="1047.2" x2="406.0" y2="1047.2" stroke="#231f20" stroke-width="2.7"/>
<text x="394.0" y="1057.1" font-size="28" text-anchor="end">10</text>
<line x1="401.4" y1="1292.9" x2="602.6" y2="1292.9" stroke="#231f20" stroke-width="2.7"/>
<line x1="453.0" y1="1292.9" x2="453.0" y2="1298.5" stroke="#231f20" stroke-width="2.7"/>
<line x1="557.6" y1="1292.9" x2="557.6" y2="1298.5" stroke="#231f20" stroke-width="2.7"/>
<text x="453.0" y="1329.5" font-size="28" text-anchor="middle">0</text>
<text x="557.6" y="1329.5" font-size="28" text-anchor="middle">2</text>
<rect x="422.0" y="1284.4" width="22.6" height="8.5" fill="#999a9d" stroke="#231f20" stroke-width="2.7" />
<rect x="461.4" y="1226.7" width="22.6" height="66.2" fill="#fff" stroke="#231f20" stroke-width="2.7" />
<rect x="527.2" y="1144.4" width="22.6" height="148.5" fill="#999a9d" stroke="#231f20" stroke-width="2.7" />
<rect x="566.0" y="1211.9" width="22.6" height="81.0" fill="#fff" stroke="#231f20" stroke-width="2.7" />
<line x1="433.3" y1="1286.8" x2="433.3" y2="1279.4" stroke="#231f20" stroke-width="2.7"/>
<line x1="425.6" y1="1279.4" x2="441.1" y2="1279.4" stroke="#231f20" stroke-width="2.7"/>
<line x1="425.6" y1="1286.8" x2="441.1" y2="1286.8" stroke="#231f20" stroke-width="2.7"/>
<line x1="472.7" y1="1230.2" x2="472.7" y2="1219.2" stroke="#231f20" stroke-width="2.7"/>
<line x1="464.9" y1="1219.2" x2="480.4" y2="1219.2" stroke="#231f20" stroke-width="2.7"/>
<line x1="464.9" y1="1230.2" x2="480.4" y2="1230.2" stroke="#231f20" stroke-width="2.7"/>
<line x1="538.5" y1="1183.6" x2="538.5" y2="1098.8" stroke="#231f20" stroke-width="2.7"/>
<line x1="530.8" y1="1098.8" x2="546.2" y2="1098.8" stroke="#231f20" stroke-width="2.7"/>
<line x1="530.8" y1="1183.6" x2="546.2" y2="1183.6" stroke="#231f20" stroke-width="2.7"/>
<line x1="577.3" y1="1224.1" x2="577.3" y2="1198.3" stroke="#231f20" stroke-width="2.7"/>
<line x1="569.5" y1="1198.3" x2="585.0" y2="1198.3" stroke="#231f20" stroke-width="2.7"/>
<line x1="569.5" y1="1224.1" x2="585.0" y2="1224.1" stroke="#231f20" stroke-width="2.7"/>
<circle cx="433.0" cy="1275.7" r="3.4" fill="#231f20"/>
<circle cx="426.6" cy="1288.2" r="3.4" fill="#231f20"/>
<circle cx="437.4" cy="1281.1" r="3.4" fill="#231f20"/>
<circle cx="472.7" cy="1218.0" r="3.4" fill="#231f20"/>
<circle cx="472.7" cy="1229.0" r="3.4" fill="#231f20"/>
<circle cx="470.0" cy="1233.9" r="3.4" fill="#231f20"/>
<circle cx="538.0" cy="1073.0" r="3.4" fill="#231f20"/>
<circle cx="538.0" cy="1133.2" r="3.4" fill="#231f20"/>
<circle cx="538.0" cy="1219.2" r="3.4" fill="#231f20"/>
<circle cx="577.0" cy="1192.2" r="3.4" fill="#231f20"/>
<circle cx="577.0" cy="1205.7" r="3.4" fill="#231f20"/>
<circle cx="577.0" cy="1231.5" r="3.4" fill="#231f20"/>
<line x1="427.7" y1="1064.5" x2="541.0" y2="1064.5" stroke="#231f20" stroke-width="2.7" stroke-linecap="round"/>
<text x="479.0" y="1065.4" font-size="25" text-anchor="middle">*</text>
<line x1="703.7" y1="1045.9" x2="703.7" y2="1294.2" stroke="#231f20" stroke-width="2.7"/>
<line x1="699.0" y1="1292.9" x2="703.7" y2="1292.9" stroke="#231f20" stroke-width="2.7"/>
<text x="692.0" y="1302.8" font-size="28" text-anchor="end">0</text>
<line x1="699.0" y1="1243.8" x2="703.7" y2="1243.8" stroke="#231f20" stroke-width="2.7"/>
<text x="692.0" y="1253.7" font-size="28" text-anchor="end">1</text>
<line x1="699.0" y1="1194.6" x2="703.7" y2="1194.6" stroke="#231f20" stroke-width="2.7"/>
<text x="692.0" y="1204.6" font-size="28" text-anchor="end">2</text>
<line x1="699.0" y1="1145.5" x2="703.7" y2="1145.5" stroke="#231f20" stroke-width="2.7"/>
<text x="692.0" y="1155.4" font-size="28" text-anchor="end">3</text>
<line x1="699.0" y1="1096.3" x2="703.7" y2="1096.3" stroke="#231f20" stroke-width="2.7"/>
<text x="692.0" y="1106.3" font-size="28" text-anchor="end">4</text>
<line x1="699.0" y1="1047.2" x2="703.7" y2="1047.2" stroke="#231f20" stroke-width="2.7"/>
<text x="692.0" y="1057.1" font-size="28" text-anchor="end">5</text>
<line x1="699.0" y1="1292.9" x2="899.6" y2="1292.9" stroke="#231f20" stroke-width="2.7"/>
<line x1="749.5" y1="1292.9" x2="749.5" y2="1298.5" stroke="#231f20" stroke-width="2.7"/>
<line x1="853.0" y1="1292.9" x2="853.0" y2="1298.5" stroke="#231f20" stroke-width="2.7"/>
<text x="743.6" y="1321" font-size="28" text-anchor="middle" dominant-baseline="central" transform="rotate(-45 743.6 1321)">0</text>
<text x="849" y="1321" font-size="28" text-anchor="middle" dominant-baseline="central" transform="rotate(-45 849 1321)">2</text>
<rect x="718.4" y="1275.1" width="22.6" height="17.8" fill="#999a9d" stroke="#231f20" stroke-width="2.7" />
<rect x="757.7" y="1276.6" width="22.6" height="16.3" fill="#fff" stroke="#231f20" stroke-width="2.7" />
<rect x="823.0" y="1279.0" width="22.6" height="13.9" fill="#999a9d" stroke="#231f20" stroke-width="2.7" />
<rect x="862.4" y="1276.6" width="22.6" height="16.3" fill="#fff" stroke="#231f20" stroke-width="2.7" />
<circle cx="725.0" cy="1270.8" r="3.4" fill="#231f20"/>
<circle cx="735.0" cy="1273.2" r="3.4" fill="#231f20"/>
<circle cx="723.0" cy="1278.2" r="3.4" fill="#231f20"/>
<circle cx="763.0" cy="1275.2" r="3.4" fill="#231f20"/>
<circle cx="769.0" cy="1274.2" r="3.4" fill="#231f20"/>
<circle cx="775.0" cy="1275.2" r="3.4" fill="#231f20"/>
<circle cx="828.0" cy="1278.2" r="3.4" fill="#231f20"/>
<circle cx="834.0" cy="1277.2" r="3.4" fill="#231f20"/>
<circle cx="840.0" cy="1277.7" r="3.4" fill="#231f20"/>
<circle cx="868.0" cy="1269.3" r="3.4" fill="#231f20"/>
<circle cx="866.0" cy="1278.2" r="3.4" fill="#231f20"/>
<circle cx="879.0" cy="1274.2" r="3.4" fill="#231f20"/>
<text x="1012.0" y="494.0" font-size="50" font-weight="bold">e</text>
<text x="1233.3" y="518.8" font-size="28.7" font-weight="bold"><tspan font-style="italic">Il6</tspan> mRNA</text>
<text x="1284.5" y="981.5" font-size="28.7" font-weight="bold"><tspan font-style="italic">Il1a</tspan> mRNA</text>
<text x="1108.4" y="714.6" font-size="25" text-anchor="middle" transform="rotate(-90 1108.4 714.6)">relative expression to <tspan font-style="italic">Hprt</tspan></text>
<text x="1110.5" y="1154.7" font-size="25" text-anchor="middle" transform="rotate(-90 1110.5 1154.7)">relative expression to <tspan font-style="italic">Hprt</tspan></text>
<text x="1365.8" y="918.4" font-size="25" text-anchor="middle">Time after LPS stimulation (hr)</text>
<text x="1329.3" y="1360.3" font-size="25" text-anchor="middle">Time after LPS stimulation (hr)</text>
<rect x="1513.5" y="555.8" width="42.6" height="22.1" fill="#77787b" stroke="#231f20" stroke-width="3.0" />
<rect x="1513.5" y="591.7" width="42.6" height="22.1" fill="#dbdcdd" stroke="#231f20" stroke-width="3.0" />
<rect x="1513.5" y="628.5" width="42.6" height="22.0" fill="#f9f9f9" stroke="#231f20" stroke-width="3.0" />
<text x="1570.4" y="577.2" font-size="30.6">WT</text>
<text x="1567.8" y="612.7" font-size="30.6">IRF5 KO</text>
<text x="1568.1" y="650.8" font-size="30.6">PYK2 KO</text>
<line x1="1225.2" y1="557.0" x2="1225.2" y2="852.8" stroke="#231f20" stroke-width="3.0"/>
<line x1="1217.5" y1="851.3" x2="1225.2" y2="851.3" stroke="#231f20" stroke-width="3.0"/>
<text x="1214.5" y="861.8" font-size="28" text-anchor="end">0</text>
<line x1="1217.5" y1="778.1" x2="1225.2" y2="778.1" stroke="#231f20" stroke-width="3.0"/>
<text x="1214.5" y="790.1" font-size="28" text-anchor="end">1<tspan stroke="#231f20" stroke-width="0.9">×</tspan>10<tspan font-size="21" dy="-10.5">4</tspan></text>
<line x1="1217.5" y1="704.9" x2="1225.2" y2="704.9" stroke="#231f20" stroke-width="3.0"/>
<text x="1214.5" y="716.9" font-size="28" text-anchor="end">2<tspan stroke="#231f20" stroke-width="0.9">×</tspan>10<tspan font-size="21" dy="-10.5">4</tspan></text>
<line x1="1217.5" y1="631.7" x2="1225.2" y2="631.7" stroke="#231f20" stroke-width="3.0"/>
<text x="1214.5" y="643.7" font-size="28" text-anchor="end">3<tspan stroke="#231f20" stroke-width="0.9">×</tspan>10<tspan font-size="21" dy="-10.5">4</tspan></text>
<line x1="1217.5" y1="558.5" x2="1225.2" y2="558.5" stroke="#231f20" stroke-width="3.0"/>
<text x="1214.5" y="570.5" font-size="28" text-anchor="end">4<tspan stroke="#231f20" stroke-width="0.9">×</tspan>10<tspan font-size="21" dy="-10.5">4</tspan></text>
<line x1="1216.5" y1="851.3" x2="1513.0" y2="851.3" stroke="#231f20" stroke-width="3.0"/>
<line x1="1274.0" y1="851.3" x2="1274.0" y2="860.3" stroke="#231f20" stroke-width="3.0"/>
<text x="1274.0" y="887.6" font-size="28" text-anchor="middle">0</text>
<line x1="1368.0" y1="851.3" x2="1368.0" y2="860.3" stroke="#231f20" stroke-width="3.0"/>
<text x="1368.0" y="887.6" font-size="28" text-anchor="middle">2</text>
<line x1="1463.3" y1="851.3" x2="1463.3" y2="860.3" stroke="#231f20" stroke-width="3.0"/>
<text x="1463.3" y="887.6" font-size="28" text-anchor="middle">4</text>
<circle cx="1240.3" cy="851.3" r="4.3" fill="#231f20"/>
<circle cx="1246.8" cy="851.3" r="4.3" fill="#231f20"/>
<circle cx="1253.3" cy="851.3" r="4.3" fill="#231f20"/>
<circle cx="1268.4" cy="851.3" r="4.3" fill="#231f20"/>
<circle cx="1274.9" cy="851.3" r="4.3" fill="#231f20"/>
<circle cx="1281.4" cy="851.3" r="4.3" fill="#231f20"/>
<circle cx="1295.7" cy="851.3" r="4.3" fill="#231f20"/>
<circle cx="1302.2" cy="851.3" r="4.3" fill="#231f20"/>
<circle cx="1308.7" cy="851.3" r="4.3" fill="#231f20"/>
<rect x="1332.0" y="830.1" width="18.5" height="21.2" fill="#77787b" stroke="#231f20" stroke-width="3.0" />
<rect x="1360.0" y="839.6" width="18.5" height="11.7" fill="#dbdcdd" stroke="#231f20" stroke-width="3.0" />
<rect x="1388.0" y="849.1" width="18.5" height="2.2" fill="#fff" stroke="#231f20" stroke-width="3.0" />
<rect x="1426.5" y="673.5" width="18.5" height="177.8" fill="#77787b" stroke="#231f20" stroke-width="3.0" />
<rect x="1454.0" y="796.4" width="18.5" height="54.9" fill="#dbdcdd" stroke="#231f20" stroke-width="3.0" />
<rect x="1481.5" y="828.6" width="18.5" height="22.7" fill="#fff" stroke="#231f20" stroke-width="3.0" />
<line x1="1341.2" y1="836.7" x2="1341.2" y2="818.4" stroke="#231f20" stroke-width="3.0"/>
<line x1="1335.2" y1="818.4" x2="1347.2" y2="818.4" stroke="#231f20" stroke-width="3.0"/>
<line x1="1335.2" y1="836.7" x2="1347.2" y2="836.7" stroke="#231f20" stroke-width="3.0"/>
<line x1="1435.8" y1="723.2" x2="1435.8" y2="620.0" stroke="#231f20" stroke-width="3.0"/>
<line x1="1429.8" y1="620.0" x2="1441.8" y2="620.0" stroke="#231f20" stroke-width="3.0"/>
<line x1="1429.8" y1="723.2" x2="1441.8" y2="723.2" stroke="#231f20" stroke-width="3.0"/>
<line x1="1463.2" y1="808.8" x2="1463.2" y2="778.8" stroke="#231f20" stroke-width="3.0"/>
<line x1="1457.2" y1="778.8" x2="1469.2" y2="778.8" stroke="#231f20" stroke-width="3.0"/>
<line x1="1457.2" y1="808.8" x2="1469.2" y2="808.8" stroke="#231f20" stroke-width="3.0"/>
<line x1="1490.8" y1="836.7" x2="1490.8" y2="817.6" stroke="#231f20" stroke-width="3.0"/>
<line x1="1484.8" y1="817.6" x2="1496.8" y2="817.6" stroke="#231f20" stroke-width="3.0"/>
<line x1="1484.8" y1="836.7" x2="1496.8" y2="836.7" stroke="#231f20" stroke-width="3.0"/>
<circle cx="1341.2" cy="814.7" r="4.3" fill="#231f20"/>
<circle cx="1341.2" cy="830.4" r="4.3" fill="#231f20"/>
<circle cx="1341.2" cy="843.2" r="4.3" fill="#231f20"/>
<circle cx="1365.0" cy="838.9" r="4.3" fill="#231f20"/>
<circle cx="1371.5" cy="836.7" r="4.3" fill="#231f20"/>
<circle cx="1377.0" cy="838.1" r="4.3" fill="#231f20"/>
<circle cx="1391.0" cy="848.4" r="4.3" fill="#231f20"/>
<circle cx="1397.5" cy="844.7" r="4.3" fill="#231f20"/>
<circle cx="1404.0" cy="846.9" r="4.3" fill="#231f20"/>
<circle cx="1435.8" cy="602.4" r="4.3" fill="#231f20"/>
<circle cx="1435.8" cy="640.5" r="4.3" fill="#231f20"/>
<circle cx="1435.8" cy="770.8" r="4.3" fill="#231f20"/>
<circle cx="1456.7" cy="775.2" r="4.3" fill="#231f20"/>
<circle cx="1469.7" cy="781.8" r="4.3" fill="#231f20"/>
<circle cx="1463.2" cy="824.2" r="4.3" fill="#231f20"/>
<circle cx="1490.5" cy="814.7" r="4.3" fill="#231f20"/>
<circle cx="1490.5" cy="822.0" r="4.3" fill="#231f20"/>
<circle cx="1490.5" cy="843.2" r="4.3" fill="#231f20"/>
<line x1="1434.0" y1="588.9" x2="1466.0" y2="588.9" stroke="#231f20" stroke-width="3.0" stroke-linecap="round"/>
<text x="1450.0" y="590.6" font-size="24.5" text-anchor="middle">***</text>
<line x1="1435.0" y1="562.9" x2="1496.6" y2="562.9" stroke="#231f20" stroke-width="3.0" stroke-linecap="round"/>
<text x="1465.4" y="564.1" font-size="24.5" text-anchor="middle">****</text>
<line x1="1225.5" y1="1000.9" x2="1225.5" y2="1296.9" stroke="#231f20" stroke-width="3.0"/>
<line x1="1217.5" y1="1295.4" x2="1225.5" y2="1295.4" stroke="#231f20" stroke-width="3.0"/>
<text x="1214.5" y="1305.9" font-size="28" text-anchor="end">0</text>
<line x1="1217.5" y1="1236.8" x2="1225.5" y2="1236.8" stroke="#231f20" stroke-width="3.0"/>
<text x="1214.5" y="1248.8" font-size="28" text-anchor="end">2<tspan stroke="#231f20" stroke-width="0.9">×</tspan>10<tspan font-size="21" dy="-10.5">4</tspan></text>
<line x1="1217.5" y1="1178.2" x2="1225.5" y2="1178.2" stroke="#231f20" stroke-width="3.0"/>
<text x="1214.5" y="1190.2" font-size="28" text-anchor="end">4<tspan stroke="#231f20" stroke-width="0.9">×</tspan>10<tspan font-size="21" dy="-10.5">4</tspan></text>
<line x1="1217.5" y1="1119.6" x2="1225.5" y2="1119.6" stroke="#231f20" stroke-width="3.0"/>
<text x="1214.5" y="1131.6" font-size="28" text-anchor="end">6<tspan stroke="#231f20" stroke-width="0.9">×</tspan>10<tspan font-size="21" dy="-10.5">4</tspan></text>
<line x1="1217.5" y1="1061.0" x2="1225.5" y2="1061.0" stroke="#231f20" stroke-width="3.0"/>
<text x="1214.5" y="1073.0" font-size="28" text-anchor="end">8<tspan stroke="#231f20" stroke-width="0.9">×</tspan>10<tspan font-size="21" dy="-10.5">4</tspan></text>
<line x1="1217.5" y1="1002.4" x2="1225.5" y2="1002.4" stroke="#231f20" stroke-width="3.0"/>
<text x="1214.5" y="1014.4" font-size="28" text-anchor="end">1<tspan stroke="#231f20" stroke-width="0.9">×</tspan>10<tspan font-size="21" dy="-10.5">5</tspan></text>
<line x1="1218.3" y1="1295.4" x2="1513.0" y2="1295.4" stroke="#231f20" stroke-width="3.0"/>
<line x1="1275.0" y1="1295.4" x2="1275.0" y2="1304.4" stroke="#231f20" stroke-width="3.0"/>
<text x="1275.0" y="1332.5" font-size="28" text-anchor="middle">0</text>
<line x1="1368.7" y1="1295.4" x2="1368.7" y2="1304.4" stroke="#231f20" stroke-width="3.0"/>
<text x="1368.7" y="1332.5" font-size="28" text-anchor="middle">2</text>
<line x1="1463.0" y1="1295.4" x2="1463.0" y2="1304.4" stroke="#231f20" stroke-width="3.0"/>
<text x="1463.0" y="1332.5" font-size="28" text-anchor="middle">4</text>
<circle cx="1240.8" cy="1295.4" r="4.3" fill="#231f20"/>
<circle cx="1247.3" cy="1295.4" r="4.3" fill="#231f20"/>
<circle cx="1253.8" cy="1295.4" r="4.3" fill="#231f20"/>
<circle cx="1268.5" cy="1295.4" r="4.3" fill="#231f20"/>
<circle cx="1275.0" cy="1295.4" r="4.3" fill="#231f20"/>
<circle cx="1281.5" cy="1295.4" r="4.3" fill="#231f20"/>
<circle cx="1295.8" cy="1295.4" r="4.3" fill="#231f20"/>
<circle cx="1302.3" cy="1295.4" r="4.3" fill="#231f20"/>
<circle cx="1308.8" cy="1295.4" r="4.3" fill="#231f20"/>
<rect x="1332.2" y="1269.1" width="18.5" height="26.3" fill="#77787b" stroke="#231f20" stroke-width="3.0" />
<rect x="1360.0" y="1271.4" width="18.5" height="24.0" fill="#dbdcdd" stroke="#231f20" stroke-width="3.0" />
<rect x="1387.8" y="1292.5" width="18.5" height="2.9" fill="#fff" stroke="#231f20" stroke-width="3.0" />
<rect x="1426.8" y="1077.2" width="18.5" height="218.2" fill="#77787b" stroke="#231f20" stroke-width="3.0" />
<rect x="1454.2" y="1175.3" width="18.5" height="120.1" fill="#dbdcdd" stroke="#231f20" stroke-width="3.0" />
<rect x="1482.0" y="1277.9" width="18.5" height="17.5" fill="#fff" stroke="#231f20" stroke-width="3.0" />
<line x1="1341.4" y1="1272.0" x2="1341.4" y2="1263.2" stroke="#231f20" stroke-width="3.0"/>
<line x1="1335.4" y1="1263.2" x2="1347.4" y2="1263.2" stroke="#231f20" stroke-width="3.0"/>
<line x1="1335.4" y1="1272.0" x2="1347.4" y2="1272.0" stroke="#231f20" stroke-width="3.0"/>
<line x1="1369.2" y1="1273.4" x2="1369.2" y2="1266.7" stroke="#231f20" stroke-width="3.0"/>
<line x1="1363.2" y1="1266.7" x2="1375.2" y2="1266.7" stroke="#231f20" stroke-width="3.0"/>
<line x1="1363.2" y1="1273.4" x2="1375.2" y2="1273.4" stroke="#231f20" stroke-width="3.0"/>
<line x1="1436.0" y1="1102.0" x2="1436.0" y2="1050.7" stroke="#231f20" stroke-width="3.0"/>
<line x1="1430.0" y1="1050.7" x2="1442.0" y2="1050.7" stroke="#231f20" stroke-width="3.0"/>
<line x1="1430.0" y1="1102.0" x2="1442.0" y2="1102.0" stroke="#231f20" stroke-width="3.0"/>
<line x1="1463.4" y1="1189.9" x2="1463.4" y2="1157.7" stroke="#231f20" stroke-width="3.0"/>
<line x1="1457.4" y1="1157.7" x2="1469.4" y2="1157.7" stroke="#231f20" stroke-width="3.0"/>
<line x1="1457.4" y1="1189.9" x2="1469.4" y2="1189.9" stroke="#231f20" stroke-width="3.0"/>
<line x1="1491.2" y1="1279.3" x2="1491.2" y2="1273.4" stroke="#231f20" stroke-width="3.0"/>
<line x1="1485.2" y1="1273.4" x2="1497.2" y2="1273.4" stroke="#231f20" stroke-width="3.0"/>
<line x1="1485.2" y1="1279.3" x2="1497.2" y2="1279.3" stroke="#231f20" stroke-width="3.0"/>
<circle cx="1341.4" cy="1260.2" r="4.3" fill="#231f20"/>
<circle cx="1334.5" cy="1270.5" r="4.3" fill="#231f20"/>
<circle cx="1348.5" cy="1269.0" r="4.3" fill="#231f20"/>
<circle cx="1362.0" cy="1267.6" r="4.3" fill="#231f20"/>
<circle cx="1369.2" cy="1273.4" r="4.3" fill="#231f20"/>
<circle cx="1376.0" cy="1267.6" r="4.3" fill="#231f20"/>
<circle cx="1390.0" cy="1291.0" r="4.3" fill="#231f20"/>
<circle cx="1397.0" cy="1289.5" r="4.3" fill="#231f20"/>
<circle cx="1404.0" cy="1291.0" r="4.3" fill="#231f20"/>
<circle cx="1436.0" cy="1025.8" r="4.3" fill="#231f20"/>
<circle cx="1436.0" cy="1084.4" r="4.3" fill="#231f20"/>
<circle cx="1436.0" cy="1110.8" r="4.3" fill="#231f20"/>
<circle cx="1463.4" cy="1141.6" r="4.3" fill="#231f20"/>
<circle cx="1456.5" cy="1187.0" r="4.3" fill="#231f20"/>
<circle cx="1470.3" cy="1187.0" r="4.3" fill="#231f20"/>
<circle cx="1484.5" cy="1274.9" r="4.3" fill="#231f20"/>
<circle cx="1491.2" cy="1277.8" r="4.3" fill="#231f20"/>
<circle cx="1498.0" cy="1274.9" r="4.3" fill="#231f20"/>
<circle cx="1491.2" cy="1282.2" r="4.3" fill="#231f20"/>
<line x1="1429.6" y1="1016.9" x2="1462.0" y2="1016.9" stroke="#231f20" stroke-width="3.0" stroke-linecap="round"/>
<text x="1446.5" y="1019.1" font-size="24.5" text-anchor="middle">****</text>
<line x1="1431.4" y1="995.2" x2="1491.4" y2="995.2" stroke="#231f20" stroke-width="3.0" stroke-linecap="round"/>
<text x="1465.0" y="993.1" font-size="24.5" text-anchor="middle">****</text>
<text x="9.1" y="1450.5" font-size="50" font-weight="bold">f</text>
<text x="36.6" y="1720.2" font-size="30.5" text-anchor="middle" transform="rotate(-90 36.6 1720.2)">relative expression to <tspan font-style="italic">Hprt</tspan></text>
<text x="36.6" y="2249.4" font-size="30.5" text-anchor="middle" transform="rotate(-90 36.6 2249.4)">relative expression to <tspan font-style="italic">Hprt</tspan></text>
<line x1="161.6" y1="1561.8" x2="161.6" y2="1888.0" stroke="#231f20" stroke-width="2.8"/>
<line x1="148.0" y1="1886.6" x2="161.6" y2="1886.6" stroke="#231f20" stroke-width="2.8"/>
<text x="145.0" y="1897.6" font-size="31" text-anchor="end">0</text>
<line x1="148.0" y1="1821.9" x2="161.6" y2="1821.9" stroke="#231f20" stroke-width="2.8"/>
<text x="145.0" y="1832.9" font-size="31" text-anchor="end">100</text>
<line x1="148.0" y1="1757.2" x2="161.6" y2="1757.2" stroke="#231f20" stroke-width="2.8"/>
<text x="145.0" y="1768.2" font-size="31" text-anchor="end">200</text>
<line x1="148.0" y1="1692.6" x2="161.6" y2="1692.6" stroke="#231f20" stroke-width="2.8"/>
<text x="145.0" y="1703.6" font-size="31" text-anchor="end">300</text>
<line x1="148.0" y1="1627.9" x2="161.6" y2="1627.9" stroke="#231f20" stroke-width="2.8"/>
<text x="145.0" y="1638.9" font-size="31" text-anchor="end">400</text>
<line x1="148.0" y1="1563.2" x2="161.6" y2="1563.2" stroke="#231f20" stroke-width="2.8"/>
<text x="145.0" y="1574.2" font-size="31" text-anchor="end">500</text>
<line x1="148.0" y1="1886.6" x2="484.7" y2="1886.6" stroke="#231f20" stroke-width="2.8"/>
<line x1="238.4" y1="1886.6" x2="238.4" y2="1899.6" stroke="#231f20" stroke-width="2.8"/>
<line x1="407.4" y1="1886.6" x2="407.4" y2="1899.6" stroke="#231f20" stroke-width="2.8"/>
<text x="238.4" y="1930.3" font-size="31.5" text-anchor="middle">NS</text>
<text x="407.4" y="1930.3" font-size="31.5" text-anchor="middle">LPS</text>
<rect x="225.0" y="1865.4" width="26.7" height="21.2" fill="#dbdcdd" stroke="#231f20" stroke-width="2.8" />
<rect x="347.8" y="1705.6" width="26.7" height="181.0" fill="#77787b" stroke="#231f20" stroke-width="2.8" />
<rect x="394.1" y="1794.9" width="26.7" height="91.7" fill="#dbdcdd" stroke="#231f20" stroke-width="2.8" />
<rect x="439.8" y="1825.3" width="26.7" height="61.3" fill="#ffffff" stroke="#231f20" stroke-width="2.8" />
<line x1="238.3" y1="1869.8" x2="238.3" y2="1856.8" stroke="#231f20" stroke-width="1.6"/>
<line x1="230.3" y1="1856.8" x2="246.3" y2="1856.8" stroke="#231f20" stroke-width="1.6"/>
<line x1="230.3" y1="1869.8" x2="246.3" y2="1869.8" stroke="#231f20" stroke-width="1.6"/>
<line x1="361.2" y1="1741.1" x2="361.2" y2="1666.0" stroke="#231f20" stroke-width="1.6"/>
<line x1="353.2" y1="1666.0" x2="369.2" y2="1666.0" stroke="#231f20" stroke-width="1.6"/>
<line x1="353.2" y1="1741.1" x2="369.2" y2="1741.1" stroke="#231f20" stroke-width="1.6"/>
<line x1="407.5" y1="1808.3" x2="407.5" y2="1779.2" stroke="#231f20" stroke-width="1.6"/>
<line x1="399.5" y1="1779.2" x2="415.5" y2="1779.2" stroke="#231f20" stroke-width="1.6"/>
<line x1="399.5" y1="1808.3" x2="415.5" y2="1808.3" stroke="#231f20" stroke-width="1.6"/>
<line x1="453.2" y1="1828.7" x2="453.2" y2="1818.0" stroke="#231f20" stroke-width="1.6"/>
<line x1="445.2" y1="1818.0" x2="461.2" y2="1818.0" stroke="#231f20" stroke-width="1.6"/>
<line x1="445.2" y1="1828.7" x2="461.2" y2="1828.7" stroke="#231f20" stroke-width="1.6"/>
<circle cx="182.0" cy="1886.6" r="5.0" fill="#231f20"/>
<circle cx="192.4" cy="1886.6" r="5.0" fill="#231f20"/>
<circle cx="203.0" cy="1886.6" r="5.0" fill="#231f20"/>
<circle cx="238.4" cy="1849.7" r="5.0" fill="#231f20"/>
<circle cx="249.0" cy="1867.2" r="5.0" fill="#231f20"/>
<circle cx="228.0" cy="1872.6" r="5.0" fill="#231f20"/>
<circle cx="274.2" cy="1886.6" r="5.0" fill="#231f20"/>
<circle cx="284.7" cy="1886.6" r="5.0" fill="#231f20"/>
<circle cx="295.2" cy="1886.6" r="5.0" fill="#231f20"/>
<circle cx="360.8" cy="1633.1" r="5.0" fill="#231f20"/>
<circle cx="360.8" cy="1718.4" r="5.0" fill="#231f20"/>
<circle cx="360.8" cy="1759.2" r="5.0" fill="#231f20"/>
<circle cx="407.5" cy="1766.9" r="5.0" fill="#231f20"/>
<circle cx="407.5" cy="1799.3" r="5.0" fill="#231f20"/>
<circle cx="407.5" cy="1815.5" r="5.0" fill="#231f20"/>
<circle cx="442.9" cy="1815.5" r="5.0" fill="#231f20"/>
<circle cx="464.5" cy="1820.0" r="5.0" fill="#231f20"/>
<circle cx="453.4" cy="1834.2" r="5.0" fill="#231f20"/>
<line x1="358.8" y1="1584.5" x2="459.5" y2="1584.5" stroke="#231f20" stroke-width="2.8" stroke-linecap="round"/>
<text x="407.0" y="1588.6" font-size="24.5" text-anchor="middle">***</text>
<line x1="358.8" y1="1605.0" x2="403.5" y2="1605.0" stroke="#231f20" stroke-width="2.8" stroke-linecap="round"/>
<text x="379.0" y="1610.1" font-size="24.5" text-anchor="middle">**</text>
<text x="236.1" y="1508.3" font-size="35.6" font-weight="bold"><tspan font-style="italic">Il1a mRNA</tspan></text>
<line x1="565.3" y1="1561.6" x2="565.3" y2="1889.0" stroke="#231f20" stroke-width="2.8"/>
<line x1="551.3" y1="1887.6" x2="565.3" y2="1887.6" stroke="#231f20" stroke-width="2.8"/>
<text x="548.3" y="1898.6" font-size="31" text-anchor="end">0</text>
<line x1="551.3" y1="1806.4" x2="565.3" y2="1806.4" stroke="#231f20" stroke-width="2.8"/>
<text x="548.3" y="1817.5" font-size="31" text-anchor="end">100</text>
<line x1="551.3" y1="1725.3" x2="565.3" y2="1725.3" stroke="#231f20" stroke-width="2.8"/>
<text x="548.3" y="1736.3" font-size="31" text-anchor="end">200</text>
<line x1="551.3" y1="1644.1" x2="565.3" y2="1644.1" stroke="#231f20" stroke-width="2.8"/>
<text x="548.3" y="1655.2" font-size="31" text-anchor="end">300</text>
<line x1="551.3" y1="1563.0" x2="565.3" y2="1563.0" stroke="#231f20" stroke-width="2.8"/>
<text x="548.3" y="1574.0" font-size="31" text-anchor="end">400</text>
<line x1="551.3" y1="1887.6" x2="887.3" y2="1887.6" stroke="#231f20" stroke-width="2.8"/>
<line x1="641.2" y1="1887.6" x2="641.2" y2="1900.6" stroke="#231f20" stroke-width="2.8"/>
<line x1="810.5" y1="1887.6" x2="810.5" y2="1900.6" stroke="#231f20" stroke-width="2.8"/>
<text x="641.2" y="1930.3" font-size="31.5" text-anchor="middle">NS</text>
<text x="810.5" y="1930.3" font-size="31.5" text-anchor="middle">LPS</text>
<rect x="628.1" y="1852.5" width="26.7" height="35.1" fill="#dbdcdd" stroke="#231f20" stroke-width="2.8" />
<rect x="750.9" y="1631.8" width="26.7" height="255.8" fill="#77787b" stroke="#231f20" stroke-width="2.8" />
<rect x="797.5" y="1738.9" width="26.7" height="148.7" fill="#dbdcdd" stroke="#231f20" stroke-width="2.8" />
<rect x="843.5" y="1729.9" width="26.7" height="157.7" fill="#ffffff" stroke="#231f20" stroke-width="2.8" />
<line x1="641.5" y1="1856.0" x2="641.5" y2="1843.4" stroke="#231f20" stroke-width="1.6"/>
<line x1="633.5" y1="1843.4" x2="649.5" y2="1843.4" stroke="#231f20" stroke-width="1.6"/>
<line x1="633.5" y1="1856.0" x2="649.5" y2="1856.0" stroke="#231f20" stroke-width="1.6"/>
<line x1="764.2" y1="1656.3" x2="764.2" y2="1602.0" stroke="#231f20" stroke-width="1.6"/>
<line x1="756.2" y1="1602.0" x2="772.2" y2="1602.0" stroke="#231f20" stroke-width="1.6"/>
<line x1="756.2" y1="1656.3" x2="772.2" y2="1656.3" stroke="#231f20" stroke-width="1.6"/>
<line x1="810.9" y1="1754.5" x2="810.9" y2="1718.8" stroke="#231f20" stroke-width="1.6"/>
<line x1="802.9" y1="1718.8" x2="818.9" y2="1718.8" stroke="#231f20" stroke-width="1.6"/>
<line x1="802.9" y1="1754.5" x2="818.9" y2="1754.5" stroke="#231f20" stroke-width="1.6"/>
<line x1="856.9" y1="1741.5" x2="856.9" y2="1714.8" stroke="#231f20" stroke-width="1.6"/>
<line x1="848.9" y1="1714.8" x2="864.9" y2="1714.8" stroke="#231f20" stroke-width="1.6"/>
<line x1="848.9" y1="1741.5" x2="864.9" y2="1741.5" stroke="#231f20" stroke-width="1.6"/>
<circle cx="585.7" cy="1887.6" r="5.0" fill="#231f20"/>
<circle cx="595.4" cy="1887.6" r="5.0" fill="#231f20"/>
<circle cx="605.5" cy="1887.6" r="5.0" fill="#231f20"/>
<circle cx="641.5" cy="1839.7" r="5.0" fill="#231f20"/>
<circle cx="641.5" cy="1850.3" r="5.0" fill="#231f20"/>
<circle cx="641.5" cy="1860.8" r="5.0" fill="#231f20"/>
<circle cx="677.0" cy="1887.6" r="5.0" fill="#231f20"/>
<circle cx="687.5" cy="1887.6" r="5.0" fill="#231f20"/>
<circle cx="698.0" cy="1887.6" r="5.0" fill="#231f20"/>
<circle cx="764.2" cy="1591.4" r="5.0" fill="#231f20"/>
<circle cx="764.2" cy="1615.7" r="5.0" fill="#231f20"/>
<circle cx="764.2" cy="1680.7" r="5.0" fill="#231f20"/>
<circle cx="810.9" cy="1705.0" r="5.0" fill="#231f20"/>
<circle cx="810.9" cy="1737.5" r="5.0" fill="#231f20"/>
<circle cx="810.9" cy="1767.5" r="5.0" fill="#231f20"/>
<circle cx="846.0" cy="1714.8" r="5.0" fill="#231f20"/>
<circle cx="867.4" cy="1714.8" r="5.0" fill="#231f20"/>
<circle cx="856.9" cy="1754.5" r="5.0" fill="#231f20"/>
<line x1="762.4" y1="1582.0" x2="806.6" y2="1582.0" stroke="#231f20" stroke-width="2.8" stroke-linecap="round"/>
<text x="785.4" y="1586.2" font-size="24.5" text-anchor="middle">***</text>
<line x1="762.4" y1="1561.2" x2="862.7" y2="1561.2" stroke="#231f20" stroke-width="2.8" stroke-linecap="round"/>
<text x="809.2" y="1565.8" font-size="24.5" text-anchor="middle">***</text>
<text x="638.8" y="1509.3" font-size="35.6" font-weight="bold"><tspan font-style="italic">Il1b mRNA</tspan></text>
<line x1="1001.7" y1="1560.3" x2="1001.7" y2="1885.4" stroke="#231f20" stroke-width="2.8"/>
<line x1="989.3" y1="1884.0" x2="1001.7" y2="1884.0" stroke="#231f20" stroke-width="2.8"/>
<text x="986.3" y="1895.0" font-size="31" text-anchor="end">0</text>
<line x1="989.3" y1="1776.6" x2="1001.7" y2="1776.6" stroke="#231f20" stroke-width="2.8"/>
<text x="986.3" y="1787.6" font-size="31" text-anchor="end">5000</text>
<line x1="989.3" y1="1669.1" x2="1001.7" y2="1669.1" stroke="#231f20" stroke-width="2.8"/>
<text x="986.3" y="1680.1" font-size="31" text-anchor="end">10000</text>
<line x1="989.3" y1="1561.7" x2="1001.7" y2="1561.7" stroke="#231f20" stroke-width="2.8"/>
<text x="986.3" y="1572.7" font-size="31" text-anchor="end">15000</text>
<line x1="989.3" y1="1884.0" x2="1324.0" y2="1884.0" stroke="#231f20" stroke-width="2.8"/>
<line x1="1077.8" y1="1884.0" x2="1077.8" y2="1897.0" stroke="#231f20" stroke-width="2.8"/>
<line x1="1247.0" y1="1884.0" x2="1247.0" y2="1897.0" stroke="#231f20" stroke-width="2.8"/>
<text x="1077.8" y="1930.3" font-size="31.5" text-anchor="middle">NS</text>
<text x="1247.0" y="1930.3" font-size="31.5" text-anchor="middle">LPS</text>
<rect x="1064.7" y="1880.5" width="26.7" height="3.5" fill="#dbdcdd" stroke="#231f20" stroke-width="2.8" />
<rect x="1188.2" y="1684.9" width="26.7" height="199.1" fill="#77787b" stroke="#231f20" stroke-width="2.8" />
<rect x="1233.9" y="1840.7" width="26.7" height="43.3" fill="#dbdcdd" stroke="#231f20" stroke-width="2.8" />
<rect x="1280.0" y="1867.4" width="26.7" height="16.6" fill="#ffffff" stroke="#231f20" stroke-width="2.8" />
<line x1="1201.5" y1="1700.3" x2="1201.5" y2="1664.8" stroke="#231f20" stroke-width="1.6"/>
<line x1="1193.5" y1="1664.8" x2="1209.5" y2="1664.8" stroke="#231f20" stroke-width="1.6"/>
<line x1="1193.5" y1="1700.3" x2="1209.5" y2="1700.3" stroke="#231f20" stroke-width="1.6"/>
<line x1="1247.2" y1="1842.1" x2="1247.2" y2="1835.7" stroke="#231f20" stroke-width="1.6"/>
<line x1="1239.2" y1="1835.7" x2="1255.2" y2="1835.7" stroke="#231f20" stroke-width="1.6"/>
<line x1="1239.2" y1="1842.1" x2="1255.2" y2="1842.1" stroke="#231f20" stroke-width="1.6"/>
<line x1="1293.3" y1="1867.9" x2="1293.3" y2="1863.6" stroke="#231f20" stroke-width="1.6"/>
<line x1="1285.3" y1="1863.6" x2="1301.3" y2="1863.6" stroke="#231f20" stroke-width="1.6"/>
<line x1="1285.3" y1="1867.9" x2="1301.3" y2="1867.9" stroke="#231f20" stroke-width="1.6"/>
<circle cx="1022.5" cy="1884.0" r="5.0" fill="#231f20"/>
<circle cx="1032.1" cy="1884.0" r="5.0" fill="#231f20"/>
<circle cx="1043.2" cy="1884.0" r="5.0" fill="#231f20"/>
<circle cx="1077.8" cy="1875.6" r="5.0" fill="#231f20"/>
<circle cx="1069.5" cy="1877.6" r="5.0" fill="#231f20"/>
<circle cx="1088.8" cy="1877.6" r="5.0" fill="#231f20"/>
<circle cx="1114.6" cy="1884.0" r="5.0" fill="#231f20"/>
<circle cx="1124.8" cy="1884.0" r="5.0" fill="#231f20"/>
<circle cx="1135.0" cy="1884.0" r="5.0" fill="#231f20"/>
<circle cx="1191.2" cy="1664.2" r="5.0" fill="#231f20"/>
<circle cx="1212.0" cy="1664.8" r="5.0" fill="#231f20"/>
<circle cx="1201.4" cy="1718.6" r="5.0" fill="#231f20"/>
<circle cx="1236.8" cy="1832.9" r="5.0" fill="#231f20"/>
<circle cx="1257.6" cy="1836.9" r="5.0" fill="#231f20"/>
<circle cx="1237.4" cy="1842.5" r="5.0" fill="#231f20"/>
<circle cx="1293.6" cy="1861.9" r="5.0" fill="#231f20"/>
<circle cx="1303.0" cy="1866.0" r="5.0" fill="#231f20"/>
<circle cx="1283.3" cy="1868.7" r="5.0" fill="#231f20"/>
<line x1="1199.5" y1="1637.8" x2="1243.2" y2="1637.8" stroke="#231f20" stroke-width="2.8" stroke-linecap="round"/>
<text x="1223.0" y="1642.1" font-size="24.5" text-anchor="middle">****</text>
<line x1="1199.5" y1="1616.2" x2="1299.0" y2="1616.2" stroke="#231f20" stroke-width="2.8" stroke-linecap="round"/>
<text x="1250.0" y="1620.6" font-size="24.5" text-anchor="middle">****</text>
<text x="1096.4" y="1506.4" font-size="35.6" font-weight="bold"><tspan font-style="italic">Il6</tspan>mRNA</text>
<line x1="1439.5" y1="1560.3" x2="1439.5" y2="1886.2" stroke="#231f20" stroke-width="2.8"/>
<line x1="1426.5" y1="1884.8" x2="1439.5" y2="1884.8" stroke="#231f20" stroke-width="2.8"/>
<text x="1423.5" y="1895.8" font-size="31" text-anchor="end">0</text>
<line x1="1426.5" y1="1777.1" x2="1439.5" y2="1777.1" stroke="#231f20" stroke-width="2.8"/>
<text x="1423.5" y="1788.1" font-size="31" text-anchor="end">50</text>
<line x1="1426.5" y1="1669.4" x2="1439.5" y2="1669.4" stroke="#231f20" stroke-width="2.8"/>
<text x="1423.5" y="1680.4" font-size="31" text-anchor="end">100</text>
<line x1="1426.5" y1="1561.7" x2="1439.5" y2="1561.7" stroke="#231f20" stroke-width="2.8"/>
<text x="1423.5" y="1572.7" font-size="31" text-anchor="end">150</text>
<line x1="1426.5" y1="1884.8" x2="1761.2" y2="1884.8" stroke="#231f20" stroke-width="2.8"/>
<line x1="1515.8" y1="1884.8" x2="1515.8" y2="1897.8" stroke="#231f20" stroke-width="2.8"/>
<line x1="1684.6" y1="1884.8" x2="1684.6" y2="1897.8" stroke="#231f20" stroke-width="2.8"/>
<text x="1515.8" y="1930.3" font-size="31.5" text-anchor="middle">NS</text>
<text x="1684.6" y="1930.3" font-size="31.5" text-anchor="middle">LPS</text>
<rect x="1502.7" y="1866.2" width="26.7" height="18.6" fill="#dbdcdd" stroke="#231f20" stroke-width="2.8" />
<rect x="1548.7" y="1879.3" width="26.7" height="5.5" fill="#ffffff" stroke="#231f20" stroke-width="2.8" />
<rect x="1625.5" y="1716.0" width="26.7" height="168.8" fill="#77787b" stroke="#231f20" stroke-width="2.8" />
<rect x="1671.6" y="1779.6" width="26.7" height="105.2" fill="#dbdcdd" stroke="#231f20" stroke-width="2.8" />
<rect x="1717.8" y="1799.0" width="26.7" height="85.8" fill="#ffffff" stroke="#231f20" stroke-width="2.8" />
<line x1="1516.0" y1="1870.2" x2="1516.0" y2="1856.4" stroke="#231f20" stroke-width="1.6"/>
<line x1="1508.0" y1="1856.4" x2="1524.0" y2="1856.4" stroke="#231f20" stroke-width="1.6"/>
<line x1="1508.0" y1="1870.2" x2="1524.0" y2="1870.2" stroke="#231f20" stroke-width="1.6"/>
<line x1="1562.0" y1="1884.8" x2="1562.0" y2="1869.3" stroke="#231f20" stroke-width="1.6"/>
<line x1="1554.0" y1="1869.3" x2="1570.0" y2="1869.3" stroke="#231f20" stroke-width="1.6"/>
<line x1="1554.0" y1="1884.8" x2="1570.0" y2="1884.8" stroke="#231f20" stroke-width="1.6"/>
<line x1="1638.8" y1="1749.1" x2="1638.8" y2="1678.0" stroke="#231f20" stroke-width="1.6"/>
<line x1="1630.8" y1="1678.0" x2="1646.8" y2="1678.0" stroke="#231f20" stroke-width="1.6"/>
<line x1="1630.8" y1="1749.1" x2="1646.8" y2="1749.1" stroke="#231f20" stroke-width="1.6"/>
<line x1="1684.9" y1="1793.0" x2="1684.9" y2="1763.1" stroke="#231f20" stroke-width="1.6"/>
<line x1="1676.9" y1="1763.1" x2="1692.9" y2="1763.1" stroke="#231f20" stroke-width="1.6"/>
<line x1="1676.9" y1="1793.0" x2="1692.9" y2="1793.0" stroke="#231f20" stroke-width="1.6"/>
<line x1="1731.1" y1="1810.5" x2="1731.1" y2="1780.3" stroke="#231f20" stroke-width="1.6"/>
<line x1="1723.1" y1="1780.3" x2="1739.1" y2="1780.3" stroke="#231f20" stroke-width="1.6"/>
<line x1="1723.1" y1="1810.5" x2="1739.1" y2="1810.5" stroke="#231f20" stroke-width="1.6"/>
<circle cx="1459.7" cy="1884.8" r="5.0" fill="#231f20"/>
<circle cx="1469.4" cy="1884.8" r="5.0" fill="#231f20"/>
<circle cx="1479.6" cy="1884.8" r="5.0" fill="#231f20"/>
<circle cx="1505.3" cy="1852.9" r="5.0" fill="#231f20"/>
<circle cx="1526.0" cy="1862.0" r="5.0" fill="#231f20"/>
<circle cx="1515.8" cy="1875.8" r="5.0" fill="#231f20"/>
<circle cx="1562.0" cy="1861.3" r="5.0" fill="#231f20"/>
<circle cx="1551.8" cy="1884.8" r="5.0" fill="#231f20"/>
<circle cx="1572.3" cy="1884.8" r="5.0" fill="#231f20"/>
<circle cx="1639.0" cy="1645.7" r="5.0" fill="#231f20"/>
<circle cx="1639.0" cy="1728.6" r="5.0" fill="#231f20"/>
<circle cx="1639.0" cy="1766.3" r="5.0" fill="#231f20"/>
<circle cx="1684.9" cy="1746.9" r="5.0" fill="#231f20"/>
<circle cx="1684.9" cy="1787.9" r="5.0" fill="#231f20"/>
<circle cx="1684.9" cy="1795.4" r="5.0" fill="#231f20"/>
<circle cx="1720.6" cy="1777.1" r="5.0" fill="#231f20"/>
<circle cx="1741.9" cy="1785.7" r="5.0" fill="#231f20"/>
<circle cx="1731.6" cy="1826.6" r="5.0" fill="#231f20"/>
<line x1="1636.7" y1="1630.9" x2="1681.0" y2="1630.9" stroke="#231f20" stroke-width="2.8" stroke-linecap="round"/>
<text x="1654.2" y="1633.8" font-size="24.5" text-anchor="middle">*</text>
<line x1="1636.7" y1="1609.6" x2="1737.2" y2="1609.6" stroke="#231f20" stroke-width="2.8" stroke-linecap="round"/>
<text x="1683.2" y="1613.6" font-size="24.5" text-anchor="middle">*</text>
<text x="1529.0" y="1506.4" font-size="35.6" font-weight="bold"><tspan font-style="italic">Tnf</tspan>  mRNA</text>
<line x1="160.2" y1="2091.9" x2="160.2" y2="2417.4" stroke="#231f20" stroke-width="2.8"/>
<line x1="147.2" y1="2416.0" x2="160.2" y2="2416.0" stroke="#231f20" stroke-width="2.8"/>
<text x="144.2" y="2427.0" font-size="31" text-anchor="end">0</text>
<line x1="147.2" y1="2351.5" x2="160.2" y2="2351.5" stroke="#231f20" stroke-width="2.8"/>
<text x="144.2" y="2362.5" font-size="31" text-anchor="end">5000</text>
<line x1="147.2" y1="2286.9" x2="160.2" y2="2286.9" stroke="#231f20" stroke-width="2.8"/>
<text x="144.2" y="2297.9" font-size="31" text-anchor="end">10000</text>
<line x1="147.2" y1="2222.4" x2="160.2" y2="2222.4" stroke="#231f20" stroke-width="2.8"/>
<text x="144.2" y="2233.4" font-size="31" text-anchor="end">15000</text>
<line x1="147.2" y1="2157.8" x2="160.2" y2="2157.8" stroke="#231f20" stroke-width="2.8"/>
<text x="144.2" y="2168.8" font-size="31" text-anchor="end">20000</text>
<line x1="147.2" y1="2093.3" x2="160.2" y2="2093.3" stroke="#231f20" stroke-width="2.8"/>
<text x="144.2" y="2104.3" font-size="31" text-anchor="end">25000</text>
<line x1="147.2" y1="2416.0" x2="483.5" y2="2416.0" stroke="#231f20" stroke-width="2.8"/>
<line x1="237.3" y1="2416.0" x2="237.3" y2="2429.0" stroke="#231f20" stroke-width="2.8"/>
<line x1="405.5" y1="2416.0" x2="405.5" y2="2429.0" stroke="#231f20" stroke-width="2.8"/>
<text x="237.3" y="2460.5" font-size="31.5" text-anchor="middle">NS</text>
<text x="405.5" y="2460.5" font-size="31.5" text-anchor="middle">LPS</text>
<rect x="224.6" y="2402.0" width="26.7" height="14.0" fill="#dbdcdd" stroke="#231f20" stroke-width="2.8" />
<rect x="347.1" y="2167.6" width="26.7" height="248.4" fill="#77787b" stroke="#231f20" stroke-width="2.8" />
<rect x="392.6" y="2337.4" width="26.7" height="78.6" fill="#dbdcdd" stroke="#231f20" stroke-width="2.8" />
<rect x="438.9" y="2357.6" width="26.7" height="58.4" fill="#ffffff" stroke="#231f20" stroke-width="2.8" />
<line x1="237.9" y1="2405.7" x2="237.9" y2="2395.3" stroke="#231f20" stroke-width="1.6"/>
<line x1="229.9" y1="2395.3" x2="245.9" y2="2395.3" stroke="#231f20" stroke-width="1.6"/>
<line x1="229.9" y1="2405.7" x2="245.9" y2="2405.7" stroke="#231f20" stroke-width="1.6"/>
<line x1="360.5" y1="2188.2" x2="360.5" y2="2143.6" stroke="#231f20" stroke-width="1.6"/>
<line x1="352.5" y1="2143.6" x2="368.5" y2="2143.6" stroke="#231f20" stroke-width="1.6"/>
<line x1="352.5" y1="2188.2" x2="368.5" y2="2188.2" stroke="#231f20" stroke-width="1.6"/>
<line x1="406.0" y1="2342.4" x2="406.0" y2="2327.8" stroke="#231f20" stroke-width="1.6"/>
<line x1="398.0" y1="2327.8" x2="414.0" y2="2327.8" stroke="#231f20" stroke-width="1.6"/>
<line x1="398.0" y1="2342.4" x2="414.0" y2="2342.4" stroke="#231f20" stroke-width="1.6"/>
<line x1="452.3" y1="2360.5" x2="452.3" y2="2349.8" stroke="#231f20" stroke-width="1.6"/>
<line x1="444.3" y1="2349.8" x2="460.3" y2="2349.8" stroke="#231f20" stroke-width="1.6"/>
<line x1="444.3" y1="2360.5" x2="460.3" y2="2360.5" stroke="#231f20" stroke-width="1.6"/>
<circle cx="180.4" cy="2416.0" r="5.0" fill="#231f20"/>
<circle cx="191.0" cy="2416.0" r="5.0" fill="#231f20"/>
<circle cx="202.0" cy="2416.0" r="5.0" fill="#231f20"/>
<circle cx="227.0" cy="2391.5" r="5.0" fill="#231f20"/>
<circle cx="247.6" cy="2400.3" r="5.0" fill="#231f20"/>
<circle cx="228.0" cy="2406.0" r="5.0" fill="#231f20"/>
<circle cx="272.8" cy="2416.0" r="5.0" fill="#231f20"/>
<circle cx="283.4" cy="2416.0" r="5.0" fill="#231f20"/>
<circle cx="294.4" cy="2416.0" r="5.0" fill="#231f20"/>
<circle cx="349.2" cy="2141.1" r="5.0" fill="#231f20"/>
<circle cx="370.9" cy="2144.9" r="5.0" fill="#231f20"/>
<circle cx="360.0" cy="2210.8" r="5.0" fill="#231f20"/>
<circle cx="396.0" cy="2324.4" r="5.0" fill="#231f20"/>
<circle cx="415.6" cy="2332.1" r="5.0" fill="#231f20"/>
<circle cx="406.0" cy="2348.9" r="5.0" fill="#231f20"/>
<circle cx="441.6" cy="2348.9" r="5.0" fill="#231f20"/>
<circle cx="461.8" cy="2351.5" r="5.0" fill="#231f20"/>
<circle cx="452.3" cy="2365.7" r="5.0" fill="#231f20"/>
<line x1="357.9" y1="2128.0" x2="402.0" y2="2128.0" stroke="#231f20" stroke-width="2.8" stroke-linecap="round"/>
<text x="379.6" y="2133.6" font-size="24.5" text-anchor="middle">****</text>
<line x1="357.9" y1="2106.6" x2="458.0" y2="2106.6" stroke="#231f20" stroke-width="2.8" stroke-linecap="round"/>
<text x="405.5" y="2113.2" font-size="24.5" text-anchor="middle">****</text>
<text x="224.5" y="2039.4" font-size="35.6" font-weight="bold"><tspan font-style="italic">Il12b mRNA</tspan></text>
<line x1="601.0" y1="2092.2" x2="601.0" y2="2418.4" stroke="#231f20" stroke-width="2.8"/>
<line x1="587.2" y1="2417.0" x2="601.0" y2="2417.0" stroke="#231f20" stroke-width="2.8"/>
<text x="584.2" y="2428.0" font-size="31" text-anchor="end">0</text>
<line x1="587.2" y1="2336.2" x2="601.0" y2="2336.2" stroke="#231f20" stroke-width="2.8"/>
<text x="584.2" y="2347.2" font-size="31" text-anchor="end">200</text>
<line x1="587.2" y1="2255.3" x2="601.0" y2="2255.3" stroke="#231f20" stroke-width="2.8"/>
<text x="584.2" y="2266.3" font-size="31" text-anchor="end">400</text>
<line x1="587.2" y1="2174.4" x2="601.0" y2="2174.4" stroke="#231f20" stroke-width="2.8"/>
<text x="584.2" y="2185.5" font-size="31" text-anchor="end">600</text>
<line x1="587.2" y1="2093.6" x2="601.0" y2="2093.6" stroke="#231f20" stroke-width="2.8"/>
<text x="584.2" y="2104.6" font-size="31" text-anchor="end">800</text>
<line x1="587.2" y1="2417.0" x2="923.7" y2="2417.0" stroke="#231f20" stroke-width="2.8"/>
<line x1="677.2" y1="2417.0" x2="677.2" y2="2430.0" stroke="#231f20" stroke-width="2.8"/>
<line x1="845.9" y1="2417.0" x2="845.9" y2="2430.0" stroke="#231f20" stroke-width="2.8"/>
<text x="677.2" y="2460.5" font-size="31.5" text-anchor="middle">NS</text>
<text x="845.9" y="2460.5" font-size="31.5" text-anchor="middle">LPS</text>
<rect x="664.1" y="2357.8" width="26.7" height="59.2" fill="#dbdcdd" stroke="#231f20" stroke-width="2.8" />
<rect x="787.1" y="2225.2" width="26.7" height="191.8" fill="#77787b" stroke="#231f20" stroke-width="2.8" />
<rect x="832.9" y="2306.4" width="26.7" height="110.6" fill="#dbdcdd" stroke="#231f20" stroke-width="2.8" />
<rect x="879.1" y="2317.7" width="26.7" height="99.3" fill="#ffffff" stroke="#231f20" stroke-width="2.8" />
<line x1="677.5" y1="2372.1" x2="677.5" y2="2338.2" stroke="#231f20" stroke-width="1.6"/>
<line x1="669.5" y1="2338.2" x2="685.5" y2="2338.2" stroke="#231f20" stroke-width="1.6"/>
<line x1="669.5" y1="2372.1" x2="685.5" y2="2372.1" stroke="#231f20" stroke-width="1.6"/>
<line x1="800.5" y1="2265.8" x2="800.5" y2="2180.5" stroke="#231f20" stroke-width="1.6"/>
<line x1="792.5" y1="2180.5" x2="808.5" y2="2180.5" stroke="#231f20" stroke-width="1.6"/>
<line x1="792.5" y1="2265.8" x2="808.5" y2="2265.8" stroke="#231f20" stroke-width="1.6"/>
<line x1="846.3" y1="2316.7" x2="846.3" y2="2291.7" stroke="#231f20" stroke-width="1.6"/>
<line x1="838.3" y1="2291.7" x2="854.3" y2="2291.7" stroke="#231f20" stroke-width="1.6"/>
<line x1="838.3" y1="2316.7" x2="854.3" y2="2316.7" stroke="#231f20" stroke-width="1.6"/>
<line x1="892.5" y1="2340.2" x2="892.5" y2="2290.1" stroke="#231f20" stroke-width="1.6"/>
<line x1="884.5" y1="2290.1" x2="900.5" y2="2290.1" stroke="#231f20" stroke-width="1.6"/>
<line x1="884.5" y1="2340.2" x2="900.5" y2="2340.2" stroke="#231f20" stroke-width="1.6"/>
<circle cx="620.4" cy="2417.0" r="5.0" fill="#231f20"/>
<circle cx="631.5" cy="2417.0" r="5.0" fill="#231f20"/>
<circle cx="641.7" cy="2417.0" r="5.0" fill="#231f20"/>
<circle cx="677.5" cy="2322.8" r="5.0" fill="#231f20"/>
<circle cx="677.5" cy="2364.4" r="5.0" fill="#231f20"/>
<circle cx="677.5" cy="2379.4" r="5.0" fill="#231f20"/>
<circle cx="713.1" cy="2417.0" r="5.0" fill="#231f20"/>
<circle cx="723.6" cy="2417.0" r="5.0" fill="#231f20"/>
<circle cx="733.9" cy="2417.0" r="5.0" fill="#231f20"/>
<circle cx="800.5" cy="2140.9" r="5.0" fill="#231f20"/>
<circle cx="800.5" cy="2243.2" r="5.0" fill="#231f20"/>
<circle cx="800.5" cy="2284.8" r="5.0" fill="#231f20"/>
<circle cx="846.3" cy="2286.4" r="5.0" fill="#231f20"/>
<circle cx="846.3" cy="2296.9" r="5.0" fill="#231f20"/>
<circle cx="846.3" cy="2328.1" r="5.0" fill="#231f20"/>
<circle cx="892.5" cy="2265.8" r="5.0" fill="#231f20"/>
<circle cx="892.5" cy="2329.7" r="5.0" fill="#231f20"/>
<circle cx="892.5" cy="2349.9" r="5.0" fill="#231f20"/>
<line x1="797.5" y1="2125.4" x2="842.6" y2="2125.4" stroke="#231f20" stroke-width="2.8" stroke-linecap="round"/>
<text x="816.0" y="2130.3" font-size="24.5" text-anchor="middle">*</text>
<line x1="797.5" y1="2104.4" x2="898.4" y2="2104.4" stroke="#231f20" stroke-width="2.8" stroke-linecap="round"/>
<text x="844.5" y="2109.6" font-size="24.5" text-anchor="middle">*</text>
<text x="666.3" y="2040.8" font-size="35.6" font-weight="bold"><tspan font-style="italic">Il23a mRNA</tspan></text>
<line x1="1064.0" y1="2092.8" x2="1064.0" y2="2418.9" stroke="#231f20" stroke-width="2.8"/>
<line x1="1050.7" y1="2417.5" x2="1064.0" y2="2417.5" stroke="#231f20" stroke-width="2.8"/>
<text x="1047.7" y="2428.5" font-size="31" text-anchor="end">0</text>
<line x1="1050.7" y1="2352.8" x2="1064.0" y2="2352.8" stroke="#231f20" stroke-width="2.8"/>
<text x="1047.7" y="2363.8" font-size="31" text-anchor="end">10</text>
<line x1="1050.7" y1="2288.2" x2="1064.0" y2="2288.2" stroke="#231f20" stroke-width="2.8"/>
<text x="1047.7" y="2299.2" font-size="31" text-anchor="end">20</text>
<line x1="1050.7" y1="2223.5" x2="1064.0" y2="2223.5" stroke="#231f20" stroke-width="2.8"/>
<text x="1047.7" y="2234.5" font-size="31" text-anchor="end">30</text>
<line x1="1050.7" y1="2158.9" x2="1064.0" y2="2158.9" stroke="#231f20" stroke-width="2.8"/>
<text x="1047.7" y="2169.9" font-size="31" text-anchor="end">40</text>
<line x1="1050.7" y1="2094.2" x2="1064.0" y2="2094.2" stroke="#231f20" stroke-width="2.8"/>
<text x="1047.7" y="2105.2" font-size="31" text-anchor="end">50</text>
<line x1="1050.7" y1="2417.5" x2="1387.7" y2="2417.5" stroke="#231f20" stroke-width="2.8"/>
<line x1="1140.1" y1="2417.5" x2="1140.1" y2="2430.5" stroke="#231f20" stroke-width="2.8"/>
<line x1="1309.3" y1="2417.5" x2="1309.3" y2="2430.5" stroke="#231f20" stroke-width="2.8"/>
<text x="1140.1" y="2460.5" font-size="31.5" text-anchor="middle">NS</text>
<text x="1309.3" y="2460.5" font-size="31.5" text-anchor="middle">LPS</text>
<rect x="1081.5" y="2413.1" width="26.7" height="4.4" fill="#77787b" stroke="#231f20" stroke-width="2.8" />
<rect x="1127.7" y="2393.7" width="26.7" height="23.8" fill="#dbdcdd" stroke="#231f20" stroke-width="2.8" />
<rect x="1250.4" y="2204.9" width="26.7" height="212.6" fill="#77787b" stroke="#231f20" stroke-width="2.8" />
<rect x="1296.6" y="2307.7" width="26.7" height="109.8" fill="#dbdcdd" stroke="#231f20" stroke-width="2.8" />
<rect x="1342.7" y="2350.4" width="26.7" height="67.1" fill="#ffffff" stroke="#231f20" stroke-width="2.8" />
<line x1="1141.0" y1="2398.1" x2="1141.0" y2="2384.5" stroke="#231f20" stroke-width="1.6"/>
<line x1="1133.0" y1="2384.5" x2="1149.0" y2="2384.5" stroke="#231f20" stroke-width="1.6"/>
<line x1="1133.0" y1="2398.1" x2="1149.0" y2="2398.1" stroke="#231f20" stroke-width="1.6"/>
<line x1="1263.7" y1="2240.3" x2="1263.7" y2="2162.1" stroke="#231f20" stroke-width="1.6"/>
<line x1="1255.7" y1="2162.1" x2="1271.7" y2="2162.1" stroke="#231f20" stroke-width="1.6"/>
<line x1="1255.7" y1="2240.3" x2="1271.7" y2="2240.3" stroke="#231f20" stroke-width="1.6"/>
<line x1="1309.9" y1="2320.5" x2="1309.9" y2="2289.5" stroke="#231f20" stroke-width="1.6"/>
<line x1="1301.9" y1="2289.5" x2="1317.9" y2="2289.5" stroke="#231f20" stroke-width="1.6"/>
<line x1="1301.9" y1="2320.5" x2="1317.9" y2="2320.5" stroke="#231f20" stroke-width="1.6"/>
<line x1="1356.0" y1="2355.4" x2="1356.0" y2="2339.9" stroke="#231f20" stroke-width="1.6"/>
<line x1="1348.0" y1="2339.9" x2="1364.0" y2="2339.9" stroke="#231f20" stroke-width="1.6"/>
<line x1="1348.0" y1="2355.4" x2="1364.0" y2="2355.4" stroke="#231f20" stroke-width="1.6"/>
<circle cx="1084.7" cy="2411.7" r="5.0" fill="#231f20"/>
<circle cx="1094.8" cy="2411.7" r="5.0" fill="#231f20"/>
<circle cx="1104.9" cy="2411.7" r="5.0" fill="#231f20"/>
<circle cx="1140.4" cy="2378.1" r="5.0" fill="#231f20"/>
<circle cx="1151.1" cy="2394.2" r="5.0" fill="#231f20"/>
<circle cx="1130.3" cy="2401.0" r="5.0" fill="#231f20"/>
<circle cx="1176.5" cy="2417.5" r="5.0" fill="#231f20"/>
<circle cx="1187.2" cy="2417.5" r="5.0" fill="#231f20"/>
<circle cx="1197.3" cy="2417.5" r="5.0" fill="#231f20"/>
<circle cx="1263.7" cy="2128.5" r="5.0" fill="#231f20"/>
<circle cx="1263.7" cy="2213.8" r="5.0" fill="#231f20"/>
<circle cx="1263.7" cy="2263.0" r="5.0" fill="#231f20"/>
<circle cx="1309.9" cy="2277.2" r="5.0" fill="#231f20"/>
<circle cx="1309.9" cy="2309.5" r="5.0" fill="#231f20"/>
<circle cx="1309.9" cy="2330.9" r="5.0" fill="#231f20"/>
<circle cx="1356.0" cy="2332.1" r="5.0" fill="#231f20"/>
<circle cx="1367.0" cy="2351.5" r="5.0" fill="#231f20"/>
<circle cx="1346.0" cy="2360.0" r="5.0" fill="#231f20"/>
<line x1="1261.4" y1="2116.7" x2="1305.5" y2="2116.7" stroke="#231f20" stroke-width="2.8" stroke-linecap="round"/>
<text x="1281.6" y="2120.6" font-size="24.5" text-anchor="middle">**</text>
<line x1="1261.4" y1="2095.0" x2="1361.8" y2="2095.0" stroke="#231f20" stroke-width="2.8" stroke-linecap="round"/>
<text x="1309.3" y="2099.6" font-size="24.5" text-anchor="middle">***</text>
<text x="1131.4" y="2040.8" font-size="35.6" font-weight="bold"><tspan font-style="italic">Ccl4 mRNA</tspan></text>
<line x1="1475.5" y1="2093.1" x2="1475.5" y2="2419.5" stroke="#231f20" stroke-width="2.8"/>
<line x1="1461.6" y1="2418.1" x2="1475.5" y2="2418.1" stroke="#231f20" stroke-width="2.8"/>
<text x="1458.6" y="2429.1" font-size="31" text-anchor="end">0</text>
<line x1="1461.6" y1="2353.4" x2="1475.5" y2="2353.4" stroke="#231f20" stroke-width="2.8"/>
<text x="1458.6" y="2364.4" font-size="31" text-anchor="end">100</text>
<line x1="1461.6" y1="2288.7" x2="1475.5" y2="2288.7" stroke="#231f20" stroke-width="2.8"/>
<text x="1458.6" y="2299.7" font-size="31" text-anchor="end">200</text>
<line x1="1461.6" y1="2223.9" x2="1475.5" y2="2223.9" stroke="#231f20" stroke-width="2.8"/>
<text x="1458.6" y="2234.9" font-size="31" text-anchor="end">300</text>
<line x1="1461.6" y1="2159.2" x2="1475.5" y2="2159.2" stroke="#231f20" stroke-width="2.8"/>
<text x="1458.6" y="2170.2" font-size="31" text-anchor="end">400</text>
<line x1="1461.6" y1="2094.5" x2="1475.5" y2="2094.5" stroke="#231f20" stroke-width="2.8"/>
<text x="1458.6" y="2105.5" font-size="31" text-anchor="end">500</text>
<line x1="1461.6" y1="2418.1" x2="1798.7" y2="2418.1" stroke="#231f20" stroke-width="2.8"/>
<line x1="1551.5" y1="2418.1" x2="1551.5" y2="2431.1" stroke="#231f20" stroke-width="2.8"/>
<line x1="1721.2" y1="2418.1" x2="1721.2" y2="2431.1" stroke="#231f20" stroke-width="2.8"/>
<text x="1551.5" y="2460.5" font-size="31.5" text-anchor="middle">NS</text>
<text x="1721.2" y="2460.5" font-size="31.5" text-anchor="middle">LPS</text>
<rect x="1538.4" y="2409.4" width="26.7" height="8.7" fill="#dbdcdd" stroke="#231f20" stroke-width="2.8" />
<rect x="1661.8" y="2145.7" width="26.7" height="272.4" fill="#77787b" stroke="#231f20" stroke-width="2.8" />
<rect x="1707.7" y="2332.1" width="26.7" height="86.0" fill="#dbdcdd" stroke="#231f20" stroke-width="2.8" />
<rect x="1753.6" y="2376.1" width="26.7" height="42.0" fill="#ffffff" stroke="#231f20" stroke-width="2.8" />
<line x1="1551.7" y1="2411.6" x2="1551.7" y2="2404.5" stroke="#231f20" stroke-width="1.6"/>
<line x1="1543.7" y1="2404.5" x2="1559.7" y2="2404.5" stroke="#231f20" stroke-width="1.6"/>
<line x1="1543.7" y1="2411.6" x2="1559.7" y2="2411.6" stroke="#231f20" stroke-width="1.6"/>
<line x1="1675.1" y1="2168.3" x2="1675.1" y2="2119.1" stroke="#231f20" stroke-width="1.6"/>
<line x1="1667.1" y1="2119.1" x2="1683.1" y2="2119.1" stroke="#231f20" stroke-width="1.6"/>
<line x1="1667.1" y1="2168.3" x2="1683.1" y2="2168.3" stroke="#231f20" stroke-width="1.6"/>
<line x1="1721.0" y1="2341.1" x2="1721.0" y2="2319.7" stroke="#231f20" stroke-width="1.6"/>
<line x1="1713.0" y1="2319.7" x2="1729.0" y2="2319.7" stroke="#231f20" stroke-width="1.6"/>
<line x1="1713.0" y1="2341.1" x2="1729.0" y2="2341.1" stroke="#231f20" stroke-width="1.6"/>
<line x1="1766.9" y1="2379.3" x2="1766.9" y2="2368.3" stroke="#231f20" stroke-width="1.6"/>
<line x1="1758.9" y1="2368.3" x2="1774.9" y2="2368.3" stroke="#231f20" stroke-width="1.6"/>
<line x1="1758.9" y1="2379.3" x2="1774.9" y2="2379.3" stroke="#231f20" stroke-width="1.6"/>
<circle cx="1495.5" cy="2418.1" r="5.0" fill="#231f20"/>
<circle cx="1505.6" cy="2418.1" r="5.0" fill="#231f20"/>
<circle cx="1516.1" cy="2418.1" r="5.0" fill="#231f20"/>
<circle cx="1551.8" cy="2401.9" r="5.0" fill="#231f20"/>
<circle cx="1541.7" cy="2410.3" r="5.0" fill="#231f20"/>
<circle cx="1562.3" cy="2410.3" r="5.0" fill="#231f20"/>
<circle cx="1587.8" cy="2418.1" r="5.0" fill="#231f20"/>
<circle cx="1598.0" cy="2418.1" r="5.0" fill="#231f20"/>
<circle cx="1608.5" cy="2418.1" r="5.0" fill="#231f20"/>
<circle cx="1664.2" cy="2123.6" r="5.0" fill="#231f20"/>
<circle cx="1685.4" cy="2128.2" r="5.0" fill="#231f20"/>
<circle cx="1675.0" cy="2192.2" r="5.0" fill="#231f20"/>
<circle cx="1721.0" cy="2310.7" r="5.0" fill="#231f20"/>
<circle cx="1721.0" cy="2330.7" r="5.0" fill="#231f20"/>
<circle cx="1721.0" cy="2347.6" r="5.0" fill="#231f20"/>
<circle cx="1757.2" cy="2365.7" r="5.0" fill="#231f20"/>
<circle cx="1778.7" cy="2372.1" r="5.0" fill="#231f20"/>
<circle cx="1767.3" cy="2383.2" r="5.0" fill="#231f20"/>
<line x1="1673.1" y1="2099.2" x2="1717.2" y2="2099.2" stroke="#231f20" stroke-width="2.8" stroke-linecap="round"/>
<text x="1697.1" y="2102.6" font-size="24.5" text-anchor="middle">****</text>
<line x1="1673.1" y1="2077.9" x2="1773.5" y2="2077.9" stroke="#231f20" stroke-width="2.8" stroke-linecap="round"/>
<text x="1723.3" y="2082.6" font-size="24.5" text-anchor="middle">****</text>
<text x="1542.0" y="2041.6" font-size="35.6" font-weight="bold"><tspan font-style="italic">Ccl5 mRNA</tspan></text>
<rect x="1453.3" y="1563.9" width="29.1" height="21.2" fill="#77787b" stroke="#231f20" stroke-width="2.8" />
<rect x="1453.3" y="1593.3" width="29.1" height="20.7" fill="#dbdcdd" stroke="#231f20" stroke-width="2.8" />
<rect x="1453.3" y="1622.6" width="29.1" height="20.6" fill="#fcfcfc" stroke="#231f20" stroke-width="2.8" />
<text x="1489.9" y="1582.5" font-size="26.5">WT</text>
<text x="1487.5" y="1612.9" font-size="26.5">IRF5 KO</text>
<text x="1487.8" y="1642.8" font-size="26.5">PYK2 KO</text>
</svg>
</body></html>
